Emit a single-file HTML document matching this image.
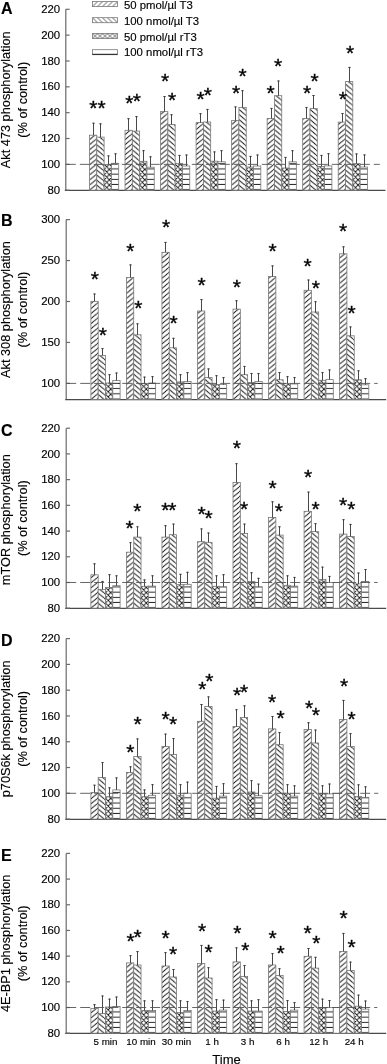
<!DOCTYPE html>
<html><head><meta charset="utf-8"><title>Figure</title>
<style>
html,body{margin:0;padding:0;background:#fff;width:387px;height:1064px;overflow:hidden;}
svg{display:block;font-family:"Liberation Sans", sans-serif;will-change:transform;}
text{stroke:#000;stroke-width:0.15px;}
</style></head><body>
<svg width="387" height="1064" viewBox="0 0 387 1064" font-family="Liberation Sans, sans-serif" fill="#000">
<defs>
<pattern id="hf" patternUnits="userSpaceOnUse" width="6.0" height="5.05" x="0" y="0"><path d="M-6.0,5.05 L0,0 M0,5.05 L6.0,0 M6.0,5.05 L12.0,0" stroke="#111" stroke-width="0.95" fill="none"/></pattern>
<pattern id="hb" patternUnits="userSpaceOnUse" width="6.0" height="5.05" x="0" y="0"><path d="M-6.0,0 L0,5.05 M0,0 L6.0,5.05 M6.0,0 L12.0,5.05" stroke="#111" stroke-width="0.95" fill="none"/></pattern>
<pattern id="hx" patternUnits="userSpaceOnUse" width="5.2" height="5.2" x="0" y="0"><path d="M-5.2,5.2 L0,0 M0,5.2 L5.2,0 M5.2,5.2 L10.4,0 M-5.2,0 L0,5.2 M0,0 L5.2,5.2 M5.2,0 L10.4,5.2" stroke="#111" stroke-width="0.9" fill="none"/></pattern>
<pattern id="hh" patternUnits="userSpaceOnUse" width="8" height="5.2" x="0" y="0"><path d="M-1,4.7 L9,4.7" stroke="#111" stroke-width="0.9" fill="none"/></pattern>
<pattern id="lf" patternUnits="userSpaceOnUse" width="5" height="5" x="0" y="0"><path d="M-5,5 L0,0 M0,5 L5,0 M5,5 L10,0" stroke="#111" stroke-width="0.7" fill="none"/></pattern>
<pattern id="lb" patternUnits="userSpaceOnUse" width="5" height="5" x="0" y="0"><path d="M-5,0 L0,5 M0,0 L5,5 M5,0 L10,5" stroke="#111" stroke-width="0.7" fill="none"/></pattern>
<pattern id="lx" patternUnits="userSpaceOnUse" width="5" height="5" x="0" y="0"><path d="M-5,5 L0,0 M0,5 L5,0 M5,5 L10,0 M-5,0 L0,5 M0,0 L5,5 M5,0 L10,5" stroke="#111" stroke-width="0.7" fill="none"/></pattern>
</defs>
<g transform="translate(92.5,6.6)"><rect x="0" y="-5" width="25" height="5" fill="#fff"/><rect x="0" y="-5" width="25" height="5" fill="url(#lf)" stroke="#777" stroke-width="0.8"/></g>
<text x="124" y="9.4" font-size="11.35">50 pmol/µl T3</text>
<g transform="translate(92.5,22.7)"><rect x="0" y="-5" width="25" height="5" fill="#fff"/><rect x="0" y="-5" width="25" height="5" fill="url(#lb)" stroke="#777" stroke-width="0.8"/></g>
<text x="124" y="25" font-size="11.35">100 nmol/µl T3</text>
<g transform="translate(92.5,38.5)"><rect x="0" y="-5" width="25" height="5" fill="#fff"/><rect x="0" y="-5" width="25" height="5" fill="url(#lx)" stroke="#777" stroke-width="0.8"/></g>
<text x="124" y="40.5" font-size="11.35">50 pmol/µl rT3</text>
<g transform="translate(92.5,54.7)"><rect x="0" y="-5" width="25" height="5" fill="#fff"/><rect x="0" y="-5" width="25" height="5" fill="#fff" stroke="#777" stroke-width="0.8"/></g>
<line x1="92.5" y1="54.3" x2="117.5" y2="54.3" stroke="#111" stroke-width="0.95"/>
<text x="124" y="56" font-size="11.35">100 nmol/µl rT3</text>
<line x1="65.8" y1="9.3" x2="65.8" y2="190.2" stroke="#6a6a6a" stroke-width="1.2"/>
<line x1="64.8" y1="190.4" x2="385.5" y2="190.4" stroke="#4a4a4a" stroke-width="1.3"/>
<line x1="65.8" y1="9.3" x2="69.6" y2="9.3" stroke="#6a6a6a" stroke-width="1.2"/>
<text x="60.2" y="12.9" font-size="11.4" text-anchor="end">220</text>
<line x1="65.8" y1="35.14" x2="69.6" y2="35.14" stroke="#6a6a6a" stroke-width="1.2"/>
<text x="60.2" y="38.74" font-size="11.4" text-anchor="end">200</text>
<line x1="65.8" y1="60.99" x2="69.6" y2="60.99" stroke="#6a6a6a" stroke-width="1.2"/>
<text x="60.2" y="64.59" font-size="11.4" text-anchor="end">180</text>
<line x1="65.8" y1="86.83" x2="69.6" y2="86.83" stroke="#6a6a6a" stroke-width="1.2"/>
<text x="60.2" y="90.43" font-size="11.4" text-anchor="end">160</text>
<line x1="65.8" y1="112.67" x2="69.6" y2="112.67" stroke="#6a6a6a" stroke-width="1.2"/>
<text x="60.2" y="116.27" font-size="11.4" text-anchor="end">140</text>
<line x1="65.8" y1="138.51" x2="69.6" y2="138.51" stroke="#6a6a6a" stroke-width="1.2"/>
<text x="60.2" y="142.11" font-size="11.4" text-anchor="end">120</text>
<line x1="65.8" y1="164.36" x2="69.6" y2="164.36" stroke="#6a6a6a" stroke-width="1.2"/>
<text x="60.2" y="167.96" font-size="11.4" text-anchor="end">100</text>
<line x1="65.8" y1="190.2" x2="69.6" y2="190.2" stroke="#6a6a6a" stroke-width="1.2"/>
<text x="60.2" y="193.8" font-size="11.4" text-anchor="end">80</text>
<text x="1" y="14.2" font-size="16" font-weight="bold">A</text>
<text transform="translate(10.3,99.75) rotate(-90)" font-size="12.75" text-anchor="middle">Akt 473 phosphorylation</text>
<text transform="translate(26.6,99.75) rotate(-90)" font-size="12.75" text-anchor="middle">(% of control)</text>
<g transform="translate(89.5,190.2)"><rect x="0" y="-55" width="7.3" height="55" fill="#fff"/><rect x="0" y="-55" width="7.3" height="55" fill="url(#hf)" stroke="#777" stroke-width="0.8"/></g>
<line x1="93.5" y1="135.2" x2="93.5" y2="122.8" stroke="#333" stroke-width="0.9"/>
<line x1="92.3" y1="123.2" x2="94.7" y2="123.2" stroke="#333" stroke-width="0.9"/>
<g transform="translate(96.8,190.2)"><rect x="0" y="-53.1" width="7.3" height="53.1" fill="#fff"/><rect x="0" y="-53.1" width="7.3" height="53.1" fill="url(#hb)" stroke="#777" stroke-width="0.8"/></g>
<line x1="100.5" y1="137.1" x2="100.5" y2="123.4" stroke="#333" stroke-width="0.9"/>
<line x1="99.3" y1="123.8" x2="101.7" y2="123.8" stroke="#333" stroke-width="0.9"/>
<g transform="translate(104.1,190.2)"><rect x="0" y="-25.8" width="7.3" height="25.8" fill="#fff"/><rect x="0" y="-25.8" width="7.3" height="25.8" fill="url(#hx)" stroke="#777" stroke-width="0.8"/></g>
<line x1="108.5" y1="164.4" x2="108.5" y2="155.5" stroke="#333" stroke-width="0.9"/>
<line x1="107.3" y1="155.9" x2="109.7" y2="155.9" stroke="#333" stroke-width="0.9"/>
<g transform="translate(111.4,190.2)"><rect x="0" y="-26.9" width="7.3" height="26.9" fill="#fff"/><rect x="0" y="-26.9" width="7.3" height="26.9" fill="url(#hh)" stroke="#777" stroke-width="0.8"/></g>
<line x1="115.5" y1="163.3" x2="115.5" y2="153.4" stroke="#333" stroke-width="0.9"/>
<line x1="114.3" y1="153.8" x2="116.7" y2="153.8" stroke="#333" stroke-width="0.9"/>
<g transform="translate(125.03,190.2)"><rect x="0" y="-59.9" width="7.3" height="59.9" fill="#fff"/><rect x="0" y="-59.9" width="7.3" height="59.9" fill="url(#hf)" stroke="#777" stroke-width="0.8"/></g>
<line x1="128.5" y1="130.3" x2="128.5" y2="118.3" stroke="#333" stroke-width="0.9"/>
<line x1="127.3" y1="118.7" x2="129.7" y2="118.7" stroke="#333" stroke-width="0.9"/>
<g transform="translate(132.33,190.2)"><rect x="0" y="-59.1" width="7.3" height="59.1" fill="#fff"/><rect x="0" y="-59.1" width="7.3" height="59.1" fill="url(#hb)" stroke="#777" stroke-width="0.8"/></g>
<line x1="136.5" y1="131.1" x2="136.5" y2="116.2" stroke="#333" stroke-width="0.9"/>
<line x1="135.3" y1="116.6" x2="137.7" y2="116.6" stroke="#333" stroke-width="0.9"/>
<g transform="translate(139.63,190.2)"><rect x="0" y="-28.9" width="7.3" height="28.9" fill="#fff"/><rect x="0" y="-28.9" width="7.3" height="28.9" fill="url(#hx)" stroke="#777" stroke-width="0.8"/></g>
<line x1="143.5" y1="161.3" x2="143.5" y2="150.3" stroke="#333" stroke-width="0.9"/>
<line x1="142.3" y1="150.7" x2="144.7" y2="150.7" stroke="#333" stroke-width="0.9"/>
<g transform="translate(146.93,190.2)"><rect x="0" y="-23" width="7.3" height="23" fill="#fff"/><rect x="0" y="-23" width="7.3" height="23" fill="url(#hh)" stroke="#777" stroke-width="0.8"/></g>
<line x1="150.5" y1="167.2" x2="150.5" y2="156.4" stroke="#333" stroke-width="0.9"/>
<line x1="149.3" y1="156.8" x2="151.7" y2="156.8" stroke="#333" stroke-width="0.9"/>
<g transform="translate(160.56,190.2)"><rect x="0" y="-78.6" width="7.3" height="78.6" fill="#fff"/><rect x="0" y="-78.6" width="7.3" height="78.6" fill="url(#hf)" stroke="#777" stroke-width="0.8"/></g>
<line x1="164.5" y1="111.6" x2="164.5" y2="96.1" stroke="#333" stroke-width="0.9"/>
<line x1="163.3" y1="96.5" x2="165.7" y2="96.5" stroke="#333" stroke-width="0.9"/>
<g transform="translate(167.86,190.2)"><rect x="0" y="-65.6" width="7.3" height="65.6" fill="#fff"/><rect x="0" y="-65.6" width="7.3" height="65.6" fill="url(#hb)" stroke="#777" stroke-width="0.8"/></g>
<line x1="171.5" y1="124.6" x2="171.5" y2="114.3" stroke="#333" stroke-width="0.9"/>
<line x1="170.3" y1="114.7" x2="172.7" y2="114.7" stroke="#333" stroke-width="0.9"/>
<g transform="translate(175.16,190.2)"><rect x="0" y="-26.9" width="7.3" height="26.9" fill="#fff"/><rect x="0" y="-26.9" width="7.3" height="26.9" fill="url(#hx)" stroke="#777" stroke-width="0.8"/></g>
<line x1="179.5" y1="163.3" x2="179.5" y2="155" stroke="#333" stroke-width="0.9"/>
<line x1="178.3" y1="155.4" x2="180.7" y2="155.4" stroke="#333" stroke-width="0.9"/>
<g transform="translate(182.46,190.2)"><rect x="0" y="-24.2" width="7.3" height="24.2" fill="#fff"/><rect x="0" y="-24.2" width="7.3" height="24.2" fill="url(#hh)" stroke="#777" stroke-width="0.8"/></g>
<line x1="186.5" y1="166" x2="186.5" y2="154.6" stroke="#333" stroke-width="0.9"/>
<line x1="185.3" y1="155" x2="187.7" y2="155" stroke="#333" stroke-width="0.9"/>
<g transform="translate(196.09,190.2)"><rect x="0" y="-67.6" width="7.3" height="67.6" fill="#fff"/><rect x="0" y="-67.6" width="7.3" height="67.6" fill="url(#hf)" stroke="#777" stroke-width="0.8"/></g>
<line x1="200.5" y1="122.6" x2="200.5" y2="113.3" stroke="#333" stroke-width="0.9"/>
<line x1="199.3" y1="113.7" x2="201.7" y2="113.7" stroke="#333" stroke-width="0.9"/>
<g transform="translate(203.39,190.2)"><rect x="0" y="-68.2" width="7.3" height="68.2" fill="#fff"/><rect x="0" y="-68.2" width="7.3" height="68.2" fill="url(#hb)" stroke="#777" stroke-width="0.8"/></g>
<line x1="207.5" y1="122" x2="207.5" y2="109" stroke="#333" stroke-width="0.9"/>
<line x1="206.3" y1="109.4" x2="208.7" y2="109.4" stroke="#333" stroke-width="0.9"/>
<g transform="translate(210.69,190.2)"><rect x="0" y="-29" width="7.3" height="29" fill="#fff"/><rect x="0" y="-29" width="7.3" height="29" fill="url(#hx)" stroke="#777" stroke-width="0.8"/></g>
<line x1="214.5" y1="161.2" x2="214.5" y2="151.5" stroke="#333" stroke-width="0.9"/>
<line x1="213.3" y1="151.9" x2="215.7" y2="151.9" stroke="#333" stroke-width="0.9"/>
<g transform="translate(217.99,190.2)"><rect x="0" y="-28.4" width="7.3" height="28.4" fill="#fff"/><rect x="0" y="-28.4" width="7.3" height="28.4" fill="url(#hh)" stroke="#777" stroke-width="0.8"/></g>
<line x1="221.5" y1="161.8" x2="221.5" y2="150.3" stroke="#333" stroke-width="0.9"/>
<line x1="220.3" y1="150.7" x2="222.7" y2="150.7" stroke="#333" stroke-width="0.9"/>
<g transform="translate(231.62,190.2)"><rect x="0" y="-69.7" width="7.3" height="69.7" fill="#fff"/><rect x="0" y="-69.7" width="7.3" height="69.7" fill="url(#hf)" stroke="#777" stroke-width="0.8"/></g>
<line x1="235.5" y1="120.5" x2="235.5" y2="106.5" stroke="#333" stroke-width="0.9"/>
<line x1="234.3" y1="106.9" x2="236.7" y2="106.9" stroke="#333" stroke-width="0.9"/>
<g transform="translate(238.92,190.2)"><rect x="0" y="-82.7" width="7.3" height="82.7" fill="#fff"/><rect x="0" y="-82.7" width="7.3" height="82.7" fill="url(#hb)" stroke="#777" stroke-width="0.8"/></g>
<line x1="242.5" y1="107.5" x2="242.5" y2="90.3" stroke="#333" stroke-width="0.9"/>
<line x1="241.3" y1="90.7" x2="243.7" y2="90.7" stroke="#333" stroke-width="0.9"/>
<g transform="translate(246.22,190.2)"><rect x="0" y="-23.2" width="7.3" height="23.2" fill="#fff"/><rect x="0" y="-23.2" width="7.3" height="23.2" fill="url(#hx)" stroke="#777" stroke-width="0.8"/></g>
<line x1="250.5" y1="167" x2="250.5" y2="156" stroke="#333" stroke-width="0.9"/>
<line x1="249.3" y1="156.4" x2="251.7" y2="156.4" stroke="#333" stroke-width="0.9"/>
<g transform="translate(253.52,190.2)"><rect x="0" y="-24.2" width="7.3" height="24.2" fill="#fff"/><rect x="0" y="-24.2" width="7.3" height="24.2" fill="url(#hh)" stroke="#777" stroke-width="0.8"/></g>
<line x1="257.5" y1="166" x2="257.5" y2="154.6" stroke="#333" stroke-width="0.9"/>
<line x1="256.3" y1="155" x2="258.7" y2="155" stroke="#333" stroke-width="0.9"/>
<g transform="translate(267.15,190.2)"><rect x="0" y="-71.7" width="7.3" height="71.7" fill="#fff"/><rect x="0" y="-71.7" width="7.3" height="71.7" fill="url(#hf)" stroke="#777" stroke-width="0.8"/></g>
<line x1="271.5" y1="118.5" x2="271.5" y2="108" stroke="#333" stroke-width="0.9"/>
<line x1="270.3" y1="108.4" x2="272.7" y2="108.4" stroke="#333" stroke-width="0.9"/>
<g transform="translate(274.45,190.2)"><rect x="0" y="-94.5" width="7.3" height="94.5" fill="#fff"/><rect x="0" y="-94.5" width="7.3" height="94.5" fill="url(#hb)" stroke="#777" stroke-width="0.8"/></g>
<line x1="278.5" y1="95.7" x2="278.5" y2="80.6" stroke="#333" stroke-width="0.9"/>
<line x1="277.3" y1="81" x2="279.7" y2="81" stroke="#333" stroke-width="0.9"/>
<g transform="translate(281.75,190.2)"><rect x="0" y="-22.2" width="7.3" height="22.2" fill="#fff"/><rect x="0" y="-22.2" width="7.3" height="22.2" fill="url(#hx)" stroke="#777" stroke-width="0.8"/></g>
<line x1="285.5" y1="168" x2="285.5" y2="157" stroke="#333" stroke-width="0.9"/>
<line x1="284.3" y1="157.4" x2="286.7" y2="157.4" stroke="#333" stroke-width="0.9"/>
<g transform="translate(289.05,190.2)"><rect x="0" y="-28.4" width="7.3" height="28.4" fill="#fff"/><rect x="0" y="-28.4" width="7.3" height="28.4" fill="url(#hh)" stroke="#777" stroke-width="0.8"/></g>
<line x1="292.5" y1="161.8" x2="292.5" y2="150.3" stroke="#333" stroke-width="0.9"/>
<line x1="291.3" y1="150.7" x2="293.7" y2="150.7" stroke="#333" stroke-width="0.9"/>
<g transform="translate(302.68,190.2)"><rect x="0" y="-71.7" width="7.3" height="71.7" fill="#fff"/><rect x="0" y="-71.7" width="7.3" height="71.7" fill="url(#hf)" stroke="#777" stroke-width="0.8"/></g>
<line x1="306.5" y1="118.5" x2="306.5" y2="107.2" stroke="#333" stroke-width="0.9"/>
<line x1="305.3" y1="107.6" x2="307.7" y2="107.6" stroke="#333" stroke-width="0.9"/>
<g transform="translate(309.98,190.2)"><rect x="0" y="-81.6" width="7.3" height="81.6" fill="#fff"/><rect x="0" y="-81.6" width="7.3" height="81.6" fill="url(#hb)" stroke="#777" stroke-width="0.8"/></g>
<line x1="313.5" y1="108.6" x2="313.5" y2="95.1" stroke="#333" stroke-width="0.9"/>
<line x1="312.3" y1="95.5" x2="314.7" y2="95.5" stroke="#333" stroke-width="0.9"/>
<g transform="translate(317.28,190.2)"><rect x="0" y="-23.8" width="7.3" height="23.8" fill="#fff"/><rect x="0" y="-23.8" width="7.3" height="23.8" fill="url(#hx)" stroke="#777" stroke-width="0.8"/></g>
<line x1="321.5" y1="166.4" x2="321.5" y2="155" stroke="#333" stroke-width="0.9"/>
<line x1="320.3" y1="155.4" x2="322.7" y2="155.4" stroke="#333" stroke-width="0.9"/>
<g transform="translate(324.58,190.2)"><rect x="0" y="-24.3" width="7.3" height="24.3" fill="#fff"/><rect x="0" y="-24.3" width="7.3" height="24.3" fill="url(#hh)" stroke="#777" stroke-width="0.8"/></g>
<line x1="328.5" y1="165.9" x2="328.5" y2="153.3" stroke="#333" stroke-width="0.9"/>
<line x1="327.3" y1="153.7" x2="329.7" y2="153.7" stroke="#333" stroke-width="0.9"/>
<g transform="translate(338.21,190.2)"><rect x="0" y="-68.1" width="7.3" height="68.1" fill="#fff"/><rect x="0" y="-68.1" width="7.3" height="68.1" fill="url(#hf)" stroke="#777" stroke-width="0.8"/></g>
<line x1="342.5" y1="122.1" x2="342.5" y2="113.1" stroke="#333" stroke-width="0.9"/>
<line x1="341.3" y1="113.5" x2="343.7" y2="113.5" stroke="#333" stroke-width="0.9"/>
<g transform="translate(345.51,190.2)"><rect x="0" y="-108.6" width="7.3" height="108.6" fill="#fff"/><rect x="0" y="-108.6" width="7.3" height="108.6" fill="url(#hb)" stroke="#777" stroke-width="0.8"/></g>
<line x1="349.5" y1="81.6" x2="349.5" y2="67" stroke="#333" stroke-width="0.9"/>
<line x1="348.3" y1="67.4" x2="350.7" y2="67.4" stroke="#333" stroke-width="0.9"/>
<g transform="translate(352.81,190.2)"><rect x="0" y="-26.5" width="7.3" height="26.5" fill="#fff"/><rect x="0" y="-26.5" width="7.3" height="26.5" fill="url(#hx)" stroke="#777" stroke-width="0.8"/></g>
<line x1="356.5" y1="163.7" x2="356.5" y2="153.5" stroke="#333" stroke-width="0.9"/>
<line x1="355.3" y1="153.9" x2="357.7" y2="153.9" stroke="#333" stroke-width="0.9"/>
<g transform="translate(360.11,190.2)"><rect x="0" y="-23.2" width="7.3" height="23.2" fill="#fff"/><rect x="0" y="-23.2" width="7.3" height="23.2" fill="url(#hh)" stroke="#777" stroke-width="0.8"/></g>
<line x1="364.5" y1="167" x2="364.5" y2="154.5" stroke="#333" stroke-width="0.9"/>
<line x1="363.3" y1="154.9" x2="365.7" y2="154.9" stroke="#333" stroke-width="0.9"/>
<line x1="65.8" y1="164.36" x2="379.8" y2="164.36" stroke="#555" stroke-width="0.9" stroke-dasharray="10 4"/>
<text x="93.4" y="114.87" font-size="21" font-weight="normal" style="stroke-width:0.35px" text-anchor="middle">*</text>
<text x="101.5" y="114.87" font-size="21" font-weight="normal" style="stroke-width:0.35px" text-anchor="middle">*</text>
<text x="129.3" y="109.97" font-size="21" font-weight="normal" style="stroke-width:0.35px" text-anchor="middle">*</text>
<text x="136.8" y="108.07" font-size="21" font-weight="normal" style="stroke-width:0.35px" text-anchor="middle">*</text>
<text x="165" y="88.47" font-size="21" font-weight="normal" style="stroke-width:0.35px" text-anchor="middle">*</text>
<text x="172" y="106.87" font-size="21" font-weight="normal" style="stroke-width:0.35px" text-anchor="middle">*</text>
<text x="200.6" y="106.17" font-size="21" font-weight="normal" style="stroke-width:0.35px" text-anchor="middle">*</text>
<text x="207.9" y="102.07" font-size="21" font-weight="normal" style="stroke-width:0.35px" text-anchor="middle">*</text>
<text x="236.2" y="99.97" font-size="21" font-weight="normal" style="stroke-width:0.35px" text-anchor="middle">*</text>
<text x="242.7" y="83.47" font-size="21" font-weight="normal" style="stroke-width:0.35px" text-anchor="middle">*</text>
<text x="270.6" y="99.97" font-size="21" font-weight="normal" style="stroke-width:0.35px" text-anchor="middle">*</text>
<text x="278.2" y="73.47" font-size="21" font-weight="normal" style="stroke-width:0.35px" text-anchor="middle">*</text>
<text x="307" y="100.37" font-size="21" font-weight="normal" style="stroke-width:0.35px" text-anchor="middle">*</text>
<text x="314.6" y="88.27" font-size="21" font-weight="normal" style="stroke-width:0.35px" text-anchor="middle">*</text>
<text x="342.9" y="105.97" font-size="21" font-weight="normal" style="stroke-width:0.35px" text-anchor="middle">*</text>
<text x="350.2" y="59.87" font-size="21" font-weight="normal" style="stroke-width:0.35px" text-anchor="middle">*</text>
<line x1="66.2" y1="219.6" x2="66.2" y2="399.5" stroke="#6a6a6a" stroke-width="1.2"/>
<line x1="65.2" y1="399.7" x2="386.2" y2="399.7" stroke="#4a4a4a" stroke-width="1.3"/>
<line x1="66.2" y1="219.6" x2="70" y2="219.6" stroke="#6a6a6a" stroke-width="1.2"/>
<text x="60.2" y="223.2" font-size="11.4" text-anchor="end">300</text>
<line x1="66.2" y1="260.55" x2="70" y2="260.55" stroke="#6a6a6a" stroke-width="1.2"/>
<text x="60.2" y="264.15" font-size="11.4" text-anchor="end">250</text>
<line x1="66.2" y1="301.5" x2="70" y2="301.5" stroke="#6a6a6a" stroke-width="1.2"/>
<text x="60.2" y="305.1" font-size="11.4" text-anchor="end">200</text>
<line x1="66.2" y1="342.45" x2="70" y2="342.45" stroke="#6a6a6a" stroke-width="1.2"/>
<text x="60.2" y="346.05" font-size="11.4" text-anchor="end">150</text>
<line x1="66.2" y1="383.4" x2="70" y2="383.4" stroke="#6a6a6a" stroke-width="1.2"/>
<text x="60.2" y="387" font-size="11.4" text-anchor="end">100</text>
<text x="1" y="225.6" font-size="16" font-weight="bold">B</text>
<text transform="translate(10.3,309.55) rotate(-90)" font-size="12.75" text-anchor="middle">Akt 308 phosphorylation</text>
<text transform="translate(26.6,309.55) rotate(-90)" font-size="12.75" text-anchor="middle">(% of control)</text>
<g transform="translate(90.9,399.5)"><rect x="0" y="-98.2" width="7.3" height="98.2" fill="#fff"/><rect x="0" y="-98.2" width="7.3" height="98.2" fill="url(#hf)" stroke="#777" stroke-width="0.8"/></g>
<line x1="94.5" y1="301.3" x2="94.5" y2="293.6" stroke="#333" stroke-width="0.9"/>
<line x1="93.3" y1="294" x2="95.7" y2="294" stroke="#333" stroke-width="0.9"/>
<g transform="translate(98.2,399.5)"><rect x="0" y="-44.1" width="7.3" height="44.1" fill="#fff"/><rect x="0" y="-44.1" width="7.3" height="44.1" fill="url(#hb)" stroke="#777" stroke-width="0.8"/></g>
<line x1="102.5" y1="355.4" x2="102.5" y2="348.2" stroke="#333" stroke-width="0.9"/>
<line x1="101.3" y1="348.6" x2="103.7" y2="348.6" stroke="#333" stroke-width="0.9"/>
<g transform="translate(105.5,399.5)"><rect x="0" y="-16.5" width="7.3" height="16.5" fill="#fff"/><rect x="0" y="-16.5" width="7.3" height="16.5" fill="url(#hx)" stroke="#777" stroke-width="0.8"/></g>
<line x1="109.5" y1="383" x2="109.5" y2="374.3" stroke="#333" stroke-width="0.9"/>
<line x1="108.3" y1="374.7" x2="110.7" y2="374.7" stroke="#333" stroke-width="0.9"/>
<g transform="translate(112.8,399.5)"><rect x="0" y="-19" width="7.3" height="19" fill="#fff"/><rect x="0" y="-19" width="7.3" height="19" fill="url(#hh)" stroke="#777" stroke-width="0.8"/></g>
<line x1="116.5" y1="380.5" x2="116.5" y2="372.6" stroke="#333" stroke-width="0.9"/>
<line x1="115.3" y1="373" x2="117.7" y2="373" stroke="#333" stroke-width="0.9"/>
<g transform="translate(126.43,399.5)"><rect x="0" y="-122" width="7.3" height="122" fill="#fff"/><rect x="0" y="-122" width="7.3" height="122" fill="url(#hf)" stroke="#777" stroke-width="0.8"/></g>
<line x1="130.5" y1="277.5" x2="130.5" y2="264.5" stroke="#333" stroke-width="0.9"/>
<line x1="129.3" y1="264.9" x2="131.7" y2="264.9" stroke="#333" stroke-width="0.9"/>
<g transform="translate(133.73,399.5)"><rect x="0" y="-64.7" width="7.3" height="64.7" fill="#fff"/><rect x="0" y="-64.7" width="7.3" height="64.7" fill="url(#hb)" stroke="#777" stroke-width="0.8"/></g>
<line x1="137.5" y1="334.8" x2="137.5" y2="323.4" stroke="#333" stroke-width="0.9"/>
<line x1="136.3" y1="323.8" x2="138.7" y2="323.8" stroke="#333" stroke-width="0.9"/>
<g transform="translate(141.03,399.5)"><rect x="0" y="-16.1" width="7.3" height="16.1" fill="#fff"/><rect x="0" y="-16.1" width="7.3" height="16.1" fill="url(#hx)" stroke="#777" stroke-width="0.8"/></g>
<line x1="144.5" y1="383.4" x2="144.5" y2="376.7" stroke="#333" stroke-width="0.9"/>
<line x1="143.3" y1="377.1" x2="145.7" y2="377.1" stroke="#333" stroke-width="0.9"/>
<g transform="translate(148.33,399.5)"><rect x="0" y="-16.5" width="7.3" height="16.5" fill="#fff"/><rect x="0" y="-16.5" width="7.3" height="16.5" fill="url(#hh)" stroke="#777" stroke-width="0.8"/></g>
<line x1="152.5" y1="383" x2="152.5" y2="376.3" stroke="#333" stroke-width="0.9"/>
<line x1="151.3" y1="376.7" x2="153.7" y2="376.7" stroke="#333" stroke-width="0.9"/>
<g transform="translate(161.96,399.5)"><rect x="0" y="-147.2" width="7.3" height="147.2" fill="#fff"/><rect x="0" y="-147.2" width="7.3" height="147.2" fill="url(#hf)" stroke="#777" stroke-width="0.8"/></g>
<line x1="165.5" y1="252.3" x2="165.5" y2="242" stroke="#333" stroke-width="0.9"/>
<line x1="164.3" y1="242.4" x2="166.7" y2="242.4" stroke="#333" stroke-width="0.9"/>
<g transform="translate(169.26,399.5)"><rect x="0" y="-51.7" width="7.3" height="51.7" fill="#fff"/><rect x="0" y="-51.7" width="7.3" height="51.7" fill="url(#hb)" stroke="#777" stroke-width="0.8"/></g>
<line x1="173.5" y1="347.8" x2="173.5" y2="337.9" stroke="#333" stroke-width="0.9"/>
<line x1="172.3" y1="338.3" x2="174.7" y2="338.3" stroke="#333" stroke-width="0.9"/>
<g transform="translate(176.56,399.5)"><rect x="0" y="-17.6" width="7.3" height="17.6" fill="#fff"/><rect x="0" y="-17.6" width="7.3" height="17.6" fill="url(#hx)" stroke="#777" stroke-width="0.8"/></g>
<line x1="180.5" y1="381.9" x2="180.5" y2="374.3" stroke="#333" stroke-width="0.9"/>
<line x1="179.3" y1="374.7" x2="181.7" y2="374.7" stroke="#333" stroke-width="0.9"/>
<g transform="translate(183.86,399.5)"><rect x="0" y="-18" width="7.3" height="18" fill="#fff"/><rect x="0" y="-18" width="7.3" height="18" fill="url(#hh)" stroke="#777" stroke-width="0.8"/></g>
<line x1="187.5" y1="381.5" x2="187.5" y2="372.2" stroke="#333" stroke-width="0.9"/>
<line x1="186.3" y1="372.6" x2="188.7" y2="372.6" stroke="#333" stroke-width="0.9"/>
<g transform="translate(197.49,399.5)"><rect x="0" y="-88.5" width="7.3" height="88.5" fill="#fff"/><rect x="0" y="-88.5" width="7.3" height="88.5" fill="url(#hf)" stroke="#777" stroke-width="0.8"/></g>
<line x1="201.5" y1="311" x2="201.5" y2="299.2" stroke="#333" stroke-width="0.9"/>
<line x1="200.3" y1="299.6" x2="202.7" y2="299.6" stroke="#333" stroke-width="0.9"/>
<g transform="translate(204.79,399.5)"><rect x="0" y="-22.1" width="7.3" height="22.1" fill="#fff"/><rect x="0" y="-22.1" width="7.3" height="22.1" fill="url(#hb)" stroke="#777" stroke-width="0.8"/></g>
<line x1="208.5" y1="377.4" x2="208.5" y2="368.5" stroke="#333" stroke-width="0.9"/>
<line x1="207.3" y1="368.9" x2="209.7" y2="368.9" stroke="#333" stroke-width="0.9"/>
<g transform="translate(212.09,399.5)"><rect x="0" y="-14.9" width="7.3" height="14.9" fill="#fff"/><rect x="0" y="-14.9" width="7.3" height="14.9" fill="url(#hx)" stroke="#777" stroke-width="0.8"/></g>
<line x1="216.5" y1="384.6" x2="216.5" y2="375.3" stroke="#333" stroke-width="0.9"/>
<line x1="215.3" y1="375.7" x2="217.7" y2="375.7" stroke="#333" stroke-width="0.9"/>
<g transform="translate(219.39,399.5)"><rect x="0" y="-14.9" width="7.3" height="14.9" fill="#fff"/><rect x="0" y="-14.9" width="7.3" height="14.9" fill="url(#hh)" stroke="#777" stroke-width="0.8"/></g>
<line x1="223.5" y1="384.6" x2="223.5" y2="377.2" stroke="#333" stroke-width="0.9"/>
<line x1="222.3" y1="377.6" x2="224.7" y2="377.6" stroke="#333" stroke-width="0.9"/>
<g transform="translate(233.02,399.5)"><rect x="0" y="-90.4" width="7.3" height="90.4" fill="#fff"/><rect x="0" y="-90.4" width="7.3" height="90.4" fill="url(#hf)" stroke="#777" stroke-width="0.8"/></g>
<line x1="236.5" y1="309.1" x2="236.5" y2="300.3" stroke="#333" stroke-width="0.9"/>
<line x1="235.3" y1="300.7" x2="237.7" y2="300.7" stroke="#333" stroke-width="0.9"/>
<g transform="translate(240.32,399.5)"><rect x="0" y="-24.8" width="7.3" height="24.8" fill="#fff"/><rect x="0" y="-24.8" width="7.3" height="24.8" fill="url(#hb)" stroke="#777" stroke-width="0.8"/></g>
<line x1="244.5" y1="374.7" x2="244.5" y2="366" stroke="#333" stroke-width="0.9"/>
<line x1="243.3" y1="366.4" x2="245.7" y2="366.4" stroke="#333" stroke-width="0.9"/>
<g transform="translate(247.62,399.5)"><rect x="0" y="-17" width="7.3" height="17" fill="#fff"/><rect x="0" y="-17" width="7.3" height="17" fill="url(#hx)" stroke="#777" stroke-width="0.8"/></g>
<line x1="251.5" y1="382.5" x2="251.5" y2="373.2" stroke="#333" stroke-width="0.9"/>
<line x1="250.3" y1="373.6" x2="252.7" y2="373.6" stroke="#333" stroke-width="0.9"/>
<g transform="translate(254.92,399.5)"><rect x="0" y="-18" width="7.3" height="18" fill="#fff"/><rect x="0" y="-18" width="7.3" height="18" fill="url(#hh)" stroke="#777" stroke-width="0.8"/></g>
<line x1="258.5" y1="381.5" x2="258.5" y2="373.2" stroke="#333" stroke-width="0.9"/>
<line x1="257.3" y1="373.6" x2="259.7" y2="373.6" stroke="#333" stroke-width="0.9"/>
<g transform="translate(268.55,399.5)"><rect x="0" y="-123" width="7.3" height="123" fill="#fff"/><rect x="0" y="-123" width="7.3" height="123" fill="url(#hf)" stroke="#777" stroke-width="0.8"/></g>
<line x1="272.5" y1="276.5" x2="272.5" y2="265.5" stroke="#333" stroke-width="0.9"/>
<line x1="271.3" y1="265.9" x2="273.7" y2="265.9" stroke="#333" stroke-width="0.9"/>
<g transform="translate(275.85,399.5)"><rect x="0" y="-19.7" width="7.3" height="19.7" fill="#fff"/><rect x="0" y="-19.7" width="7.3" height="19.7" fill="url(#hb)" stroke="#777" stroke-width="0.8"/></g>
<line x1="279.5" y1="379.8" x2="279.5" y2="372.2" stroke="#333" stroke-width="0.9"/>
<line x1="278.3" y1="372.6" x2="280.7" y2="372.6" stroke="#333" stroke-width="0.9"/>
<g transform="translate(283.15,399.5)"><rect x="0" y="-16.1" width="7.3" height="16.1" fill="#fff"/><rect x="0" y="-16.1" width="7.3" height="16.1" fill="url(#hx)" stroke="#777" stroke-width="0.8"/></g>
<line x1="287.5" y1="383.4" x2="287.5" y2="376.3" stroke="#333" stroke-width="0.9"/>
<line x1="286.3" y1="376.7" x2="288.7" y2="376.7" stroke="#333" stroke-width="0.9"/>
<g transform="translate(290.45,399.5)"><rect x="0" y="-15.5" width="7.3" height="15.5" fill="#fff"/><rect x="0" y="-15.5" width="7.3" height="15.5" fill="url(#hh)" stroke="#777" stroke-width="0.8"/></g>
<line x1="294.5" y1="384" x2="294.5" y2="377.2" stroke="#333" stroke-width="0.9"/>
<line x1="293.3" y1="377.6" x2="295.7" y2="377.6" stroke="#333" stroke-width="0.9"/>
<g transform="translate(304.08,399.5)"><rect x="0" y="-109.2" width="7.3" height="109.2" fill="#fff"/><rect x="0" y="-109.2" width="7.3" height="109.2" fill="url(#hf)" stroke="#777" stroke-width="0.8"/></g>
<line x1="308.5" y1="290.3" x2="308.5" y2="279.6" stroke="#333" stroke-width="0.9"/>
<line x1="307.3" y1="280" x2="309.7" y2="280" stroke="#333" stroke-width="0.9"/>
<g transform="translate(311.38,399.5)"><rect x="0" y="-87.5" width="7.3" height="87.5" fill="#fff"/><rect x="0" y="-87.5" width="7.3" height="87.5" fill="url(#hb)" stroke="#777" stroke-width="0.8"/></g>
<line x1="315.5" y1="312" x2="315.5" y2="301.3" stroke="#333" stroke-width="0.9"/>
<line x1="314.3" y1="301.7" x2="316.7" y2="301.7" stroke="#333" stroke-width="0.9"/>
<g transform="translate(318.68,399.5)"><rect x="0" y="-19.2" width="7.3" height="19.2" fill="#fff"/><rect x="0" y="-19.2" width="7.3" height="19.2" fill="url(#hx)" stroke="#777" stroke-width="0.8"/></g>
<line x1="322.5" y1="380.3" x2="322.5" y2="372.2" stroke="#333" stroke-width="0.9"/>
<line x1="321.3" y1="372.6" x2="323.7" y2="372.6" stroke="#333" stroke-width="0.9"/>
<g transform="translate(325.98,399.5)"><rect x="0" y="-19.9" width="7.3" height="19.9" fill="#fff"/><rect x="0" y="-19.9" width="7.3" height="19.9" fill="url(#hh)" stroke="#777" stroke-width="0.8"/></g>
<line x1="329.5" y1="379.6" x2="329.5" y2="369.5" stroke="#333" stroke-width="0.9"/>
<line x1="328.3" y1="369.9" x2="330.7" y2="369.9" stroke="#333" stroke-width="0.9"/>
<g transform="translate(339.61,399.5)"><rect x="0" y="-145.7" width="7.3" height="145.7" fill="#fff"/><rect x="0" y="-145.7" width="7.3" height="145.7" fill="url(#hf)" stroke="#777" stroke-width="0.8"/></g>
<line x1="343.5" y1="253.8" x2="343.5" y2="246.4" stroke="#333" stroke-width="0.9"/>
<line x1="342.3" y1="246.8" x2="344.7" y2="246.8" stroke="#333" stroke-width="0.9"/>
<g transform="translate(346.91,399.5)"><rect x="0" y="-63.7" width="7.3" height="63.7" fill="#fff"/><rect x="0" y="-63.7" width="7.3" height="63.7" fill="url(#hb)" stroke="#777" stroke-width="0.8"/></g>
<line x1="350.5" y1="335.8" x2="350.5" y2="326.5" stroke="#333" stroke-width="0.9"/>
<line x1="349.3" y1="326.9" x2="351.7" y2="326.9" stroke="#333" stroke-width="0.9"/>
<g transform="translate(354.21,399.5)"><rect x="0" y="-19.7" width="7.3" height="19.7" fill="#fff"/><rect x="0" y="-19.7" width="7.3" height="19.7" fill="url(#hx)" stroke="#777" stroke-width="0.8"/></g>
<line x1="358.5" y1="379.8" x2="358.5" y2="370.4" stroke="#333" stroke-width="0.9"/>
<line x1="357.3" y1="370.8" x2="359.7" y2="370.8" stroke="#333" stroke-width="0.9"/>
<g transform="translate(361.51,399.5)"><rect x="0" y="-14.7" width="7.3" height="14.7" fill="#fff"/><rect x="0" y="-14.7" width="7.3" height="14.7" fill="url(#hh)" stroke="#777" stroke-width="0.8"/></g>
<line x1="365.5" y1="384.8" x2="365.5" y2="378.3" stroke="#333" stroke-width="0.9"/>
<line x1="364.3" y1="378.7" x2="366.7" y2="378.7" stroke="#333" stroke-width="0.9"/>
<line x1="66.2" y1="383.4" x2="377.7" y2="383.4" stroke="#555" stroke-width="0.9" stroke-dasharray="10 4"/>
<text x="94.8" y="286.07" font-size="21" font-weight="normal" style="stroke-width:0.35px" text-anchor="middle">*</text>
<text x="102.9" y="341.67" font-size="21" font-weight="normal" style="stroke-width:0.35px" text-anchor="middle">*</text>
<text x="130.3" y="257.67" font-size="21" font-weight="normal" style="stroke-width:0.35px" text-anchor="middle">*</text>
<text x="138.4" y="315.47" font-size="21" font-weight="normal" style="stroke-width:0.35px" text-anchor="middle">*</text>
<text x="166" y="234.17" font-size="21" font-weight="normal" style="stroke-width:0.35px" text-anchor="middle">*</text>
<text x="173.7" y="329.77" font-size="21" font-weight="normal" style="stroke-width:0.35px" text-anchor="middle">*</text>
<text x="201.7" y="292.37" font-size="21" font-weight="normal" style="stroke-width:0.35px" text-anchor="middle">*</text>
<text x="236.8" y="293.77" font-size="21" font-weight="normal" style="stroke-width:0.35px" text-anchor="middle">*</text>
<text x="272.6" y="258.17" font-size="21" font-weight="normal" style="stroke-width:0.35px" text-anchor="middle">*</text>
<text x="307.5" y="272.67" font-size="21" font-weight="normal" style="stroke-width:0.35px" text-anchor="middle">*</text>
<text x="315.9" y="294.87" font-size="21" font-weight="normal" style="stroke-width:0.35px" text-anchor="middle">*</text>
<text x="343" y="237.97" font-size="21" font-weight="normal" style="stroke-width:0.35px" text-anchor="middle">*</text>
<text x="351.6" y="319.97" font-size="21" font-weight="normal" style="stroke-width:0.35px" text-anchor="middle">*</text>
<line x1="66.2" y1="428.2" x2="66.2" y2="608.2" stroke="#6a6a6a" stroke-width="1.2"/>
<line x1="65.2" y1="608.4" x2="386.2" y2="608.4" stroke="#4a4a4a" stroke-width="1.3"/>
<line x1="66.2" y1="428.2" x2="70" y2="428.2" stroke="#6a6a6a" stroke-width="1.2"/>
<text x="60.2" y="431.8" font-size="11.4" text-anchor="end">220</text>
<line x1="66.2" y1="453.91" x2="70" y2="453.91" stroke="#6a6a6a" stroke-width="1.2"/>
<text x="60.2" y="457.51" font-size="11.4" text-anchor="end">200</text>
<line x1="66.2" y1="479.63" x2="70" y2="479.63" stroke="#6a6a6a" stroke-width="1.2"/>
<text x="60.2" y="483.23" font-size="11.4" text-anchor="end">180</text>
<line x1="66.2" y1="505.34" x2="70" y2="505.34" stroke="#6a6a6a" stroke-width="1.2"/>
<text x="60.2" y="508.94" font-size="11.4" text-anchor="end">160</text>
<line x1="66.2" y1="531.06" x2="70" y2="531.06" stroke="#6a6a6a" stroke-width="1.2"/>
<text x="60.2" y="534.66" font-size="11.4" text-anchor="end">140</text>
<line x1="66.2" y1="556.77" x2="70" y2="556.77" stroke="#6a6a6a" stroke-width="1.2"/>
<text x="60.2" y="560.37" font-size="11.4" text-anchor="end">120</text>
<line x1="66.2" y1="582.49" x2="70" y2="582.49" stroke="#6a6a6a" stroke-width="1.2"/>
<text x="60.2" y="586.09" font-size="11.4" text-anchor="end">100</text>
<line x1="66.2" y1="608.2" x2="70" y2="608.2" stroke="#6a6a6a" stroke-width="1.2"/>
<text x="60.2" y="611.8" font-size="11.4" text-anchor="end">80</text>
<text x="1" y="435.6" font-size="16" font-weight="bold">C</text>
<text transform="translate(10.3,519.7) rotate(-90)" font-size="12.75" text-anchor="middle">mTOR phosphorylation</text>
<text transform="translate(26.6,518.2) rotate(-90)" font-size="12.75" text-anchor="middle">(% of control)</text>
<g transform="translate(90.9,608.2)"><rect x="0" y="-33.4" width="7.3" height="33.4" fill="#fff"/><rect x="0" y="-33.4" width="7.3" height="33.4" fill="url(#hf)" stroke="#777" stroke-width="0.8"/></g>
<line x1="94.5" y1="574.8" x2="94.5" y2="563.4" stroke="#333" stroke-width="0.9"/>
<line x1="93.3" y1="563.8" x2="95.7" y2="563.8" stroke="#333" stroke-width="0.9"/>
<g transform="translate(98.2,608.2)"><rect x="0" y="-18.8" width="7.3" height="18.8" fill="#fff"/><rect x="0" y="-18.8" width="7.3" height="18.8" fill="url(#hb)" stroke="#777" stroke-width="0.8"/></g>
<line x1="102.5" y1="589.4" x2="102.5" y2="581" stroke="#333" stroke-width="0.9"/>
<line x1="101.3" y1="581.4" x2="103.7" y2="581.4" stroke="#333" stroke-width="0.9"/>
<g transform="translate(105.5,608.2)"><rect x="0" y="-20.8" width="7.3" height="20.8" fill="#fff"/><rect x="0" y="-20.8" width="7.3" height="20.8" fill="url(#hx)" stroke="#777" stroke-width="0.8"/></g>
<line x1="109.5" y1="587.4" x2="109.5" y2="574.3" stroke="#333" stroke-width="0.9"/>
<line x1="108.3" y1="574.7" x2="110.7" y2="574.7" stroke="#333" stroke-width="0.9"/>
<g transform="translate(112.8,608.2)"><rect x="0" y="-22.5" width="7.3" height="22.5" fill="#fff"/><rect x="0" y="-22.5" width="7.3" height="22.5" fill="url(#hh)" stroke="#777" stroke-width="0.8"/></g>
<line x1="116.5" y1="585.7" x2="116.5" y2="575.4" stroke="#333" stroke-width="0.9"/>
<line x1="115.3" y1="575.8" x2="117.7" y2="575.8" stroke="#333" stroke-width="0.9"/>
<g transform="translate(126.43,608.2)"><rect x="0" y="-56" width="7.3" height="56" fill="#fff"/><rect x="0" y="-56" width="7.3" height="56" fill="url(#hf)" stroke="#777" stroke-width="0.8"/></g>
<line x1="130.5" y1="552.2" x2="130.5" y2="542.3" stroke="#333" stroke-width="0.9"/>
<line x1="129.3" y1="542.7" x2="131.7" y2="542.7" stroke="#333" stroke-width="0.9"/>
<g transform="translate(133.73,608.2)"><rect x="0" y="-71.1" width="7.3" height="71.1" fill="#fff"/><rect x="0" y="-71.1" width="7.3" height="71.1" fill="url(#hb)" stroke="#777" stroke-width="0.8"/></g>
<line x1="137.5" y1="537.1" x2="137.5" y2="526.4" stroke="#333" stroke-width="0.9"/>
<line x1="136.3" y1="526.8" x2="138.7" y2="526.8" stroke="#333" stroke-width="0.9"/>
<g transform="translate(141.03,608.2)"><rect x="0" y="-21.9" width="7.3" height="21.9" fill="#fff"/><rect x="0" y="-21.9" width="7.3" height="21.9" fill="url(#hx)" stroke="#777" stroke-width="0.8"/></g>
<line x1="144.5" y1="586.3" x2="144.5" y2="579.5" stroke="#333" stroke-width="0.9"/>
<line x1="143.3" y1="579.9" x2="145.7" y2="579.9" stroke="#333" stroke-width="0.9"/>
<g transform="translate(148.33,608.2)"><rect x="0" y="-22.1" width="7.3" height="22.1" fill="#fff"/><rect x="0" y="-22.1" width="7.3" height="22.1" fill="url(#hh)" stroke="#777" stroke-width="0.8"/></g>
<line x1="152.5" y1="586.1" x2="152.5" y2="575.4" stroke="#333" stroke-width="0.9"/>
<line x1="151.3" y1="575.8" x2="153.7" y2="575.8" stroke="#333" stroke-width="0.9"/>
<g transform="translate(161.96,608.2)"><rect x="0" y="-71.1" width="7.3" height="71.1" fill="#fff"/><rect x="0" y="-71.1" width="7.3" height="71.1" fill="url(#hf)" stroke="#777" stroke-width="0.8"/></g>
<line x1="165.5" y1="537.1" x2="165.5" y2="525.3" stroke="#333" stroke-width="0.9"/>
<line x1="164.3" y1="525.7" x2="166.7" y2="525.7" stroke="#333" stroke-width="0.9"/>
<g transform="translate(169.26,608.2)"><rect x="0" y="-73.5" width="7.3" height="73.5" fill="#fff"/><rect x="0" y="-73.5" width="7.3" height="73.5" fill="url(#hb)" stroke="#777" stroke-width="0.8"/></g>
<line x1="173.5" y1="534.7" x2="173.5" y2="523.7" stroke="#333" stroke-width="0.9"/>
<line x1="172.3" y1="524.1" x2="174.7" y2="524.1" stroke="#333" stroke-width="0.9"/>
<g transform="translate(176.56,608.2)"><rect x="0" y="-23.5" width="7.3" height="23.5" fill="#fff"/><rect x="0" y="-23.5" width="7.3" height="23.5" fill="url(#hx)" stroke="#777" stroke-width="0.8"/></g>
<line x1="180.5" y1="584.7" x2="180.5" y2="573.9" stroke="#333" stroke-width="0.9"/>
<line x1="179.3" y1="574.3" x2="181.7" y2="574.3" stroke="#333" stroke-width="0.9"/>
<g transform="translate(183.86,608.2)"><rect x="0" y="-23.9" width="7.3" height="23.9" fill="#fff"/><rect x="0" y="-23.9" width="7.3" height="23.9" fill="url(#hh)" stroke="#777" stroke-width="0.8"/></g>
<line x1="187.5" y1="584.3" x2="187.5" y2="571.9" stroke="#333" stroke-width="0.9"/>
<line x1="186.3" y1="572.3" x2="188.7" y2="572.3" stroke="#333" stroke-width="0.9"/>
<g transform="translate(197.49,608.2)"><rect x="0" y="-66.5" width="7.3" height="66.5" fill="#fff"/><rect x="0" y="-66.5" width="7.3" height="66.5" fill="url(#hf)" stroke="#777" stroke-width="0.8"/></g>
<line x1="201.5" y1="541.7" x2="201.5" y2="528.5" stroke="#333" stroke-width="0.9"/>
<line x1="200.3" y1="528.9" x2="202.7" y2="528.9" stroke="#333" stroke-width="0.9"/>
<g transform="translate(204.79,608.2)"><rect x="0" y="-65.9" width="7.3" height="65.9" fill="#fff"/><rect x="0" y="-65.9" width="7.3" height="65.9" fill="url(#hb)" stroke="#777" stroke-width="0.8"/></g>
<line x1="208.5" y1="542.3" x2="208.5" y2="532.6" stroke="#333" stroke-width="0.9"/>
<line x1="207.3" y1="533" x2="209.7" y2="533" stroke="#333" stroke-width="0.9"/>
<g transform="translate(212.09,608.2)"><rect x="0" y="-21.9" width="7.3" height="21.9" fill="#fff"/><rect x="0" y="-21.9" width="7.3" height="21.9" fill="url(#hx)" stroke="#777" stroke-width="0.8"/></g>
<line x1="216.5" y1="586.3" x2="216.5" y2="575.4" stroke="#333" stroke-width="0.9"/>
<line x1="215.3" y1="575.8" x2="217.7" y2="575.8" stroke="#333" stroke-width="0.9"/>
<g transform="translate(219.39,608.2)"><rect x="0" y="-21.5" width="7.3" height="21.5" fill="#fff"/><rect x="0" y="-21.5" width="7.3" height="21.5" fill="url(#hh)" stroke="#777" stroke-width="0.8"/></g>
<line x1="223.5" y1="586.7" x2="223.5" y2="574.3" stroke="#333" stroke-width="0.9"/>
<line x1="222.3" y1="574.7" x2="224.7" y2="574.7" stroke="#333" stroke-width="0.9"/>
<g transform="translate(233.02,608.2)"><rect x="0" y="-125.8" width="7.3" height="125.8" fill="#fff"/><rect x="0" y="-125.8" width="7.3" height="125.8" fill="url(#hf)" stroke="#777" stroke-width="0.8"/></g>
<line x1="236.5" y1="482.4" x2="236.5" y2="463.3" stroke="#333" stroke-width="0.9"/>
<line x1="235.3" y1="463.7" x2="237.7" y2="463.7" stroke="#333" stroke-width="0.9"/>
<g transform="translate(240.32,608.2)"><rect x="0" y="-74.8" width="7.3" height="74.8" fill="#fff"/><rect x="0" y="-74.8" width="7.3" height="74.8" fill="url(#hb)" stroke="#777" stroke-width="0.8"/></g>
<line x1="244.5" y1="533.4" x2="244.5" y2="523.7" stroke="#333" stroke-width="0.9"/>
<line x1="243.3" y1="524.1" x2="245.7" y2="524.1" stroke="#333" stroke-width="0.9"/>
<g transform="translate(247.62,608.2)"><rect x="0" y="-26.6" width="7.3" height="26.6" fill="#fff"/><rect x="0" y="-26.6" width="7.3" height="26.6" fill="url(#hx)" stroke="#777" stroke-width="0.8"/></g>
<line x1="251.5" y1="581.6" x2="251.5" y2="572.3" stroke="#333" stroke-width="0.9"/>
<line x1="250.3" y1="572.7" x2="252.7" y2="572.7" stroke="#333" stroke-width="0.9"/>
<g transform="translate(254.92,608.2)"><rect x="0" y="-21.5" width="7.3" height="21.5" fill="#fff"/><rect x="0" y="-21.5" width="7.3" height="21.5" fill="url(#hh)" stroke="#777" stroke-width="0.8"/></g>
<line x1="258.5" y1="586.7" x2="258.5" y2="577.9" stroke="#333" stroke-width="0.9"/>
<line x1="257.3" y1="578.3" x2="259.7" y2="578.3" stroke="#333" stroke-width="0.9"/>
<g transform="translate(268.55,608.2)"><rect x="0" y="-90.7" width="7.3" height="90.7" fill="#fff"/><rect x="0" y="-90.7" width="7.3" height="90.7" fill="url(#hf)" stroke="#777" stroke-width="0.8"/></g>
<line x1="272.5" y1="517.5" x2="272.5" y2="501.4" stroke="#333" stroke-width="0.9"/>
<line x1="271.3" y1="501.8" x2="273.7" y2="501.8" stroke="#333" stroke-width="0.9"/>
<g transform="translate(275.85,608.2)"><rect x="0" y="-73.1" width="7.3" height="73.1" fill="#fff"/><rect x="0" y="-73.1" width="7.3" height="73.1" fill="url(#hb)" stroke="#777" stroke-width="0.8"/></g>
<line x1="279.5" y1="535.1" x2="279.5" y2="526.4" stroke="#333" stroke-width="0.9"/>
<line x1="278.3" y1="526.8" x2="280.7" y2="526.8" stroke="#333" stroke-width="0.9"/>
<g transform="translate(283.15,608.2)"><rect x="0" y="-22.9" width="7.3" height="22.9" fill="#fff"/><rect x="0" y="-22.9" width="7.3" height="22.9" fill="url(#hx)" stroke="#777" stroke-width="0.8"/></g>
<line x1="287.5" y1="585.3" x2="287.5" y2="575.4" stroke="#333" stroke-width="0.9"/>
<line x1="286.3" y1="575.8" x2="288.7" y2="575.8" stroke="#333" stroke-width="0.9"/>
<g transform="translate(290.45,608.2)"><rect x="0" y="-22.1" width="7.3" height="22.1" fill="#fff"/><rect x="0" y="-22.1" width="7.3" height="22.1" fill="url(#hh)" stroke="#777" stroke-width="0.8"/></g>
<line x1="294.5" y1="586.1" x2="294.5" y2="577" stroke="#333" stroke-width="0.9"/>
<line x1="293.3" y1="577.4" x2="295.7" y2="577.4" stroke="#333" stroke-width="0.9"/>
<g transform="translate(304.08,608.2)"><rect x="0" y="-96.9" width="7.3" height="96.9" fill="#fff"/><rect x="0" y="-96.9" width="7.3" height="96.9" fill="url(#hf)" stroke="#777" stroke-width="0.8"/></g>
<line x1="308.5" y1="511.3" x2="308.5" y2="491.7" stroke="#333" stroke-width="0.9"/>
<line x1="307.3" y1="492.1" x2="309.7" y2="492.1" stroke="#333" stroke-width="0.9"/>
<g transform="translate(311.38,608.2)"><rect x="0" y="-76.6" width="7.3" height="76.6" fill="#fff"/><rect x="0" y="-76.6" width="7.3" height="76.6" fill="url(#hb)" stroke="#777" stroke-width="0.8"/></g>
<line x1="315.5" y1="531.6" x2="315.5" y2="523.3" stroke="#333" stroke-width="0.9"/>
<line x1="314.3" y1="523.7" x2="316.7" y2="523.7" stroke="#333" stroke-width="0.9"/>
<g transform="translate(318.68,608.2)"><rect x="0" y="-28.7" width="7.3" height="28.7" fill="#fff"/><rect x="0" y="-28.7" width="7.3" height="28.7" fill="url(#hx)" stroke="#777" stroke-width="0.8"/></g>
<line x1="322.5" y1="579.5" x2="322.5" y2="566.7" stroke="#333" stroke-width="0.9"/>
<line x1="321.3" y1="567.1" x2="323.7" y2="567.1" stroke="#333" stroke-width="0.9"/>
<g transform="translate(325.98,608.2)"><rect x="0" y="-25.6" width="7.3" height="25.6" fill="#fff"/><rect x="0" y="-25.6" width="7.3" height="25.6" fill="url(#hh)" stroke="#777" stroke-width="0.8"/></g>
<line x1="329.5" y1="582.6" x2="329.5" y2="576" stroke="#333" stroke-width="0.9"/>
<line x1="328.3" y1="576.4" x2="330.7" y2="576.4" stroke="#333" stroke-width="0.9"/>
<rect x="333.28" y="582.49" width="6.33" height="25.71" fill="#fff" stroke="#777" stroke-width="0.8"/>
<g transform="translate(339.61,608.2)"><rect x="0" y="-74.1" width="7.3" height="74.1" fill="#fff"/><rect x="0" y="-74.1" width="7.3" height="74.1" fill="url(#hf)" stroke="#777" stroke-width="0.8"/></g>
<line x1="343.5" y1="534.1" x2="343.5" y2="519.3" stroke="#333" stroke-width="0.9"/>
<line x1="342.3" y1="519.7" x2="344.7" y2="519.7" stroke="#333" stroke-width="0.9"/>
<g transform="translate(346.91,608.2)"><rect x="0" y="-71.7" width="7.3" height="71.7" fill="#fff"/><rect x="0" y="-71.7" width="7.3" height="71.7" fill="url(#hb)" stroke="#777" stroke-width="0.8"/></g>
<line x1="350.5" y1="536.5" x2="350.5" y2="524" stroke="#333" stroke-width="0.9"/>
<line x1="349.3" y1="524.4" x2="351.7" y2="524.4" stroke="#333" stroke-width="0.9"/>
<g transform="translate(354.21,608.2)"><rect x="0" y="-24.3" width="7.3" height="24.3" fill="#fff"/><rect x="0" y="-24.3" width="7.3" height="24.3" fill="url(#hx)" stroke="#777" stroke-width="0.8"/></g>
<line x1="358.5" y1="583.9" x2="358.5" y2="572.6" stroke="#333" stroke-width="0.9"/>
<line x1="357.3" y1="573" x2="359.7" y2="573" stroke="#333" stroke-width="0.9"/>
<g transform="translate(361.51,608.2)"><rect x="0" y="-26.7" width="7.3" height="26.7" fill="#fff"/><rect x="0" y="-26.7" width="7.3" height="26.7" fill="url(#hh)" stroke="#777" stroke-width="0.8"/></g>
<line x1="365.5" y1="581.5" x2="365.5" y2="569.1" stroke="#333" stroke-width="0.9"/>
<line x1="364.3" y1="569.5" x2="366.7" y2="569.5" stroke="#333" stroke-width="0.9"/>
<line x1="66.2" y1="582.49" x2="377.7" y2="582.49" stroke="#555" stroke-width="0.9" stroke-dasharray="10 4"/>
<text x="129.6" y="534.87" font-size="21" font-weight="normal" style="stroke-width:0.35px" text-anchor="middle">*</text>
<text x="137.3" y="518.27" font-size="21" font-weight="normal" style="stroke-width:0.35px" text-anchor="middle">*</text>
<text x="165.3" y="517.47" font-size="21" font-weight="normal" style="stroke-width:0.35px" text-anchor="middle">*</text>
<text x="172.4" y="517.47" font-size="21" font-weight="normal" style="stroke-width:0.35px" text-anchor="middle">*</text>
<text x="201.7" y="520.87" font-size="21" font-weight="normal" style="stroke-width:0.35px" text-anchor="middle">*</text>
<text x="208.6" y="524.97" font-size="21" font-weight="normal" style="stroke-width:0.35px" text-anchor="middle">*</text>
<text x="236.8" y="455.47" font-size="21" font-weight="normal" style="stroke-width:0.35px" text-anchor="middle">*</text>
<text x="244.2" y="516.47" font-size="21" font-weight="normal" style="stroke-width:0.35px" text-anchor="middle">*</text>
<text x="272.6" y="494.57" font-size="21" font-weight="normal" style="stroke-width:0.35px" text-anchor="middle">*</text>
<text x="278.9" y="518.37" font-size="21" font-weight="normal" style="stroke-width:0.35px" text-anchor="middle">*</text>
<text x="308" y="483.97" font-size="21" font-weight="normal" style="stroke-width:0.35px" text-anchor="middle">*</text>
<text x="315.5" y="516.47" font-size="21" font-weight="normal" style="stroke-width:0.35px" text-anchor="middle">*</text>
<text x="343" y="511.87" font-size="21" font-weight="normal" style="stroke-width:0.35px" text-anchor="middle">*</text>
<text x="351.4" y="516.37" font-size="21" font-weight="normal" style="stroke-width:0.35px" text-anchor="middle">*</text>
<line x1="66.2" y1="638.6" x2="66.2" y2="819.1" stroke="#6a6a6a" stroke-width="1.2"/>
<line x1="65.2" y1="819.3" x2="386.2" y2="819.3" stroke="#4a4a4a" stroke-width="1.3"/>
<line x1="66.2" y1="638.6" x2="70" y2="638.6" stroke="#6a6a6a" stroke-width="1.2"/>
<text x="60.2" y="642.2" font-size="11.4" text-anchor="end">220</text>
<line x1="66.2" y1="664.39" x2="70" y2="664.39" stroke="#6a6a6a" stroke-width="1.2"/>
<text x="60.2" y="667.99" font-size="11.4" text-anchor="end">200</text>
<line x1="66.2" y1="690.17" x2="70" y2="690.17" stroke="#6a6a6a" stroke-width="1.2"/>
<text x="60.2" y="693.77" font-size="11.4" text-anchor="end">180</text>
<line x1="66.2" y1="715.96" x2="70" y2="715.96" stroke="#6a6a6a" stroke-width="1.2"/>
<text x="60.2" y="719.56" font-size="11.4" text-anchor="end">160</text>
<line x1="66.2" y1="741.74" x2="70" y2="741.74" stroke="#6a6a6a" stroke-width="1.2"/>
<text x="60.2" y="745.34" font-size="11.4" text-anchor="end">140</text>
<line x1="66.2" y1="767.53" x2="70" y2="767.53" stroke="#6a6a6a" stroke-width="1.2"/>
<text x="60.2" y="771.13" font-size="11.4" text-anchor="end">120</text>
<line x1="66.2" y1="793.31" x2="70" y2="793.31" stroke="#6a6a6a" stroke-width="1.2"/>
<text x="60.2" y="796.91" font-size="11.4" text-anchor="end">100</text>
<line x1="66.2" y1="819.1" x2="70" y2="819.1" stroke="#6a6a6a" stroke-width="1.2"/>
<text x="60.2" y="822.7" font-size="11.4" text-anchor="end">80</text>
<text x="1" y="646.4" font-size="16" font-weight="bold">D</text>
<text transform="translate(10.3,728.85) rotate(-90)" font-size="12.75" text-anchor="middle">p70S6k phosphorylation</text>
<text transform="translate(26.6,728.85) rotate(-90)" font-size="12.75" text-anchor="middle">(% of control)</text>
<g transform="translate(90.9,819.1)"><rect x="0" y="-26.5" width="7.3" height="26.5" fill="#fff"/><rect x="0" y="-26.5" width="7.3" height="26.5" fill="url(#hf)" stroke="#777" stroke-width="0.8"/></g>
<line x1="94.5" y1="792.6" x2="94.5" y2="784.8" stroke="#333" stroke-width="0.9"/>
<line x1="93.3" y1="785.2" x2="95.7" y2="785.2" stroke="#333" stroke-width="0.9"/>
<g transform="translate(98.2,819.1)"><rect x="0" y="-41.6" width="7.3" height="41.6" fill="#fff"/><rect x="0" y="-41.6" width="7.3" height="41.6" fill="url(#hb)" stroke="#777" stroke-width="0.8"/></g>
<line x1="102.5" y1="777.5" x2="102.5" y2="762.2" stroke="#333" stroke-width="0.9"/>
<line x1="101.3" y1="762.6" x2="103.7" y2="762.6" stroke="#333" stroke-width="0.9"/>
<g transform="translate(105.5,819.1)"><rect x="0" y="-22.4" width="7.3" height="22.4" fill="#fff"/><rect x="0" y="-22.4" width="7.3" height="22.4" fill="url(#hx)" stroke="#777" stroke-width="0.8"/></g>
<line x1="109.5" y1="796.7" x2="109.5" y2="787.4" stroke="#333" stroke-width="0.9"/>
<line x1="108.3" y1="787.8" x2="110.7" y2="787.8" stroke="#333" stroke-width="0.9"/>
<g transform="translate(112.8,819.1)"><rect x="0" y="-29.2" width="7.3" height="29.2" fill="#fff"/><rect x="0" y="-29.2" width="7.3" height="29.2" fill="url(#hh)" stroke="#777" stroke-width="0.8"/></g>
<line x1="116.5" y1="789.9" x2="116.5" y2="777.5" stroke="#333" stroke-width="0.9"/>
<line x1="115.3" y1="777.9" x2="117.7" y2="777.9" stroke="#333" stroke-width="0.9"/>
<g transform="translate(126.43,819.1)"><rect x="0" y="-46.7" width="7.3" height="46.7" fill="#fff"/><rect x="0" y="-46.7" width="7.3" height="46.7" fill="url(#hf)" stroke="#777" stroke-width="0.8"/></g>
<line x1="130.5" y1="772.4" x2="130.5" y2="766.4" stroke="#333" stroke-width="0.9"/>
<line x1="129.3" y1="766.8" x2="131.7" y2="766.8" stroke="#333" stroke-width="0.9"/>
<g transform="translate(133.73,819.1)"><rect x="0" y="-62.7" width="7.3" height="62.7" fill="#fff"/><rect x="0" y="-62.7" width="7.3" height="62.7" fill="url(#hb)" stroke="#777" stroke-width="0.8"/></g>
<line x1="137.5" y1="756.4" x2="137.5" y2="738.5" stroke="#333" stroke-width="0.9"/>
<line x1="136.3" y1="738.9" x2="138.7" y2="738.9" stroke="#333" stroke-width="0.9"/>
<g transform="translate(141.03,819.1)"><rect x="0" y="-22.4" width="7.3" height="22.4" fill="#fff"/><rect x="0" y="-22.4" width="7.3" height="22.4" fill="url(#hx)" stroke="#777" stroke-width="0.8"/></g>
<line x1="144.5" y1="796.7" x2="144.5" y2="789.5" stroke="#333" stroke-width="0.9"/>
<line x1="143.3" y1="789.9" x2="145.7" y2="789.9" stroke="#333" stroke-width="0.9"/>
<g transform="translate(148.33,819.1)"><rect x="0" y="-23.8" width="7.3" height="23.8" fill="#fff"/><rect x="0" y="-23.8" width="7.3" height="23.8" fill="url(#hh)" stroke="#777" stroke-width="0.8"/></g>
<line x1="152.5" y1="795.3" x2="152.5" y2="784.3" stroke="#333" stroke-width="0.9"/>
<line x1="151.3" y1="784.7" x2="153.7" y2="784.7" stroke="#333" stroke-width="0.9"/>
<g transform="translate(161.96,819.1)"><rect x="0" y="-72.6" width="7.3" height="72.6" fill="#fff"/><rect x="0" y="-72.6" width="7.3" height="72.6" fill="url(#hf)" stroke="#777" stroke-width="0.8"/></g>
<line x1="165.5" y1="746.5" x2="165.5" y2="733.7" stroke="#333" stroke-width="0.9"/>
<line x1="164.3" y1="734.1" x2="166.7" y2="734.1" stroke="#333" stroke-width="0.9"/>
<g transform="translate(169.26,819.1)"><rect x="0" y="-64.7" width="7.3" height="64.7" fill="#fff"/><rect x="0" y="-64.7" width="7.3" height="64.7" fill="url(#hb)" stroke="#777" stroke-width="0.8"/></g>
<line x1="173.5" y1="754.4" x2="173.5" y2="738.2" stroke="#333" stroke-width="0.9"/>
<line x1="172.3" y1="738.6" x2="174.7" y2="738.6" stroke="#333" stroke-width="0.9"/>
<g transform="translate(176.56,819.1)"><rect x="0" y="-23.8" width="7.3" height="23.8" fill="#fff"/><rect x="0" y="-23.8" width="7.3" height="23.8" fill="url(#hx)" stroke="#777" stroke-width="0.8"/></g>
<line x1="180.5" y1="795.3" x2="180.5" y2="784.3" stroke="#333" stroke-width="0.9"/>
<line x1="179.3" y1="784.7" x2="181.7" y2="784.7" stroke="#333" stroke-width="0.9"/>
<g transform="translate(183.86,819.1)"><rect x="0" y="-25.9" width="7.3" height="25.9" fill="#fff"/><rect x="0" y="-25.9" width="7.3" height="25.9" fill="url(#hh)" stroke="#777" stroke-width="0.8"/></g>
<line x1="187.5" y1="793.2" x2="187.5" y2="781.7" stroke="#333" stroke-width="0.9"/>
<line x1="186.3" y1="782.1" x2="188.7" y2="782.1" stroke="#333" stroke-width="0.9"/>
<g transform="translate(197.49,819.1)"><rect x="0" y="-97.8" width="7.3" height="97.8" fill="#fff"/><rect x="0" y="-97.8" width="7.3" height="97.8" fill="url(#hf)" stroke="#777" stroke-width="0.8"/></g>
<line x1="201.5" y1="721.3" x2="201.5" y2="704.1" stroke="#333" stroke-width="0.9"/>
<line x1="200.3" y1="704.5" x2="202.7" y2="704.5" stroke="#333" stroke-width="0.9"/>
<g transform="translate(204.79,819.1)"><rect x="0" y="-112.7" width="7.3" height="112.7" fill="#fff"/><rect x="0" y="-112.7" width="7.3" height="112.7" fill="url(#hb)" stroke="#777" stroke-width="0.8"/></g>
<line x1="208.5" y1="706.4" x2="208.5" y2="696.5" stroke="#333" stroke-width="0.9"/>
<line x1="207.3" y1="696.9" x2="209.7" y2="696.9" stroke="#333" stroke-width="0.9"/>
<g transform="translate(212.09,819.1)"><rect x="0" y="-20.9" width="7.3" height="20.9" fill="#fff"/><rect x="0" y="-20.9" width="7.3" height="20.9" fill="url(#hx)" stroke="#777" stroke-width="0.8"/></g>
<line x1="216.5" y1="798.2" x2="216.5" y2="786" stroke="#333" stroke-width="0.9"/>
<line x1="215.3" y1="786.4" x2="217.7" y2="786.4" stroke="#333" stroke-width="0.9"/>
<g transform="translate(219.39,819.1)"><rect x="0" y="-23" width="7.3" height="23" fill="#fff"/><rect x="0" y="-23" width="7.3" height="23" fill="url(#hh)" stroke="#777" stroke-width="0.8"/></g>
<line x1="223.5" y1="796.1" x2="223.5" y2="783.3" stroke="#333" stroke-width="0.9"/>
<line x1="222.3" y1="783.7" x2="224.7" y2="783.7" stroke="#333" stroke-width="0.9"/>
<g transform="translate(233.02,819.1)"><rect x="0" y="-92.6" width="7.3" height="92.6" fill="#fff"/><rect x="0" y="-92.6" width="7.3" height="92.6" fill="url(#hf)" stroke="#777" stroke-width="0.8"/></g>
<line x1="236.5" y1="726.5" x2="236.5" y2="709.3" stroke="#333" stroke-width="0.9"/>
<line x1="235.3" y1="709.7" x2="237.7" y2="709.7" stroke="#333" stroke-width="0.9"/>
<g transform="translate(240.32,819.1)"><rect x="0" y="-101.5" width="7.3" height="101.5" fill="#fff"/><rect x="0" y="-101.5" width="7.3" height="101.5" fill="url(#hb)" stroke="#777" stroke-width="0.8"/></g>
<line x1="244.5" y1="717.6" x2="244.5" y2="705.4" stroke="#333" stroke-width="0.9"/>
<line x1="243.3" y1="705.8" x2="245.7" y2="705.8" stroke="#333" stroke-width="0.9"/>
<g transform="translate(247.62,819.1)"><rect x="0" y="-27.1" width="7.3" height="27.1" fill="#fff"/><rect x="0" y="-27.1" width="7.3" height="27.1" fill="url(#hx)" stroke="#777" stroke-width="0.8"/></g>
<line x1="251.5" y1="792" x2="251.5" y2="780.2" stroke="#333" stroke-width="0.9"/>
<line x1="250.3" y1="780.6" x2="252.7" y2="780.6" stroke="#333" stroke-width="0.9"/>
<g transform="translate(254.92,819.1)"><rect x="0" y="-23.4" width="7.3" height="23.4" fill="#fff"/><rect x="0" y="-23.4" width="7.3" height="23.4" fill="url(#hh)" stroke="#777" stroke-width="0.8"/></g>
<line x1="258.5" y1="795.7" x2="258.5" y2="783.7" stroke="#333" stroke-width="0.9"/>
<line x1="257.3" y1="784.1" x2="259.7" y2="784.1" stroke="#333" stroke-width="0.9"/>
<g transform="translate(268.55,819.1)"><rect x="0" y="-90.2" width="7.3" height="90.2" fill="#fff"/><rect x="0" y="-90.2" width="7.3" height="90.2" fill="url(#hf)" stroke="#777" stroke-width="0.8"/></g>
<line x1="272.5" y1="728.9" x2="272.5" y2="716.1" stroke="#333" stroke-width="0.9"/>
<line x1="271.3" y1="716.5" x2="273.7" y2="716.5" stroke="#333" stroke-width="0.9"/>
<g transform="translate(275.85,819.1)"><rect x="0" y="-74.4" width="7.3" height="74.4" fill="#fff"/><rect x="0" y="-74.4" width="7.3" height="74.4" fill="url(#hb)" stroke="#777" stroke-width="0.8"/></g>
<line x1="279.5" y1="744.7" x2="279.5" y2="732.2" stroke="#333" stroke-width="0.9"/>
<line x1="278.3" y1="732.6" x2="280.7" y2="732.6" stroke="#333" stroke-width="0.9"/>
<g transform="translate(283.15,819.1)"><rect x="0" y="-25.9" width="7.3" height="25.9" fill="#fff"/><rect x="0" y="-25.9" width="7.3" height="25.9" fill="url(#hx)" stroke="#777" stroke-width="0.8"/></g>
<line x1="287.5" y1="793.2" x2="287.5" y2="784.3" stroke="#333" stroke-width="0.9"/>
<line x1="286.3" y1="784.7" x2="288.7" y2="784.7" stroke="#333" stroke-width="0.9"/>
<g transform="translate(290.45,819.1)"><rect x="0" y="-23" width="7.3" height="23" fill="#fff"/><rect x="0" y="-23" width="7.3" height="23" fill="url(#hh)" stroke="#777" stroke-width="0.8"/></g>
<line x1="294.5" y1="796.1" x2="294.5" y2="785.4" stroke="#333" stroke-width="0.9"/>
<line x1="293.3" y1="785.8" x2="295.7" y2="785.8" stroke="#333" stroke-width="0.9"/>
<g transform="translate(304.08,819.1)"><rect x="0" y="-89.5" width="7.3" height="89.5" fill="#fff"/><rect x="0" y="-89.5" width="7.3" height="89.5" fill="url(#hf)" stroke="#777" stroke-width="0.8"/></g>
<line x1="308.5" y1="729.6" x2="308.5" y2="722.3" stroke="#333" stroke-width="0.9"/>
<line x1="307.3" y1="722.7" x2="309.7" y2="722.7" stroke="#333" stroke-width="0.9"/>
<g transform="translate(311.38,819.1)"><rect x="0" y="-76.1" width="7.3" height="76.1" fill="#fff"/><rect x="0" y="-76.1" width="7.3" height="76.1" fill="url(#hb)" stroke="#777" stroke-width="0.8"/></g>
<line x1="315.5" y1="743" x2="315.5" y2="729.6" stroke="#333" stroke-width="0.9"/>
<line x1="314.3" y1="730" x2="316.7" y2="730" stroke="#333" stroke-width="0.9"/>
<g transform="translate(318.68,819.1)"><rect x="0" y="-25.5" width="7.3" height="25.5" fill="#fff"/><rect x="0" y="-25.5" width="7.3" height="25.5" fill="url(#hx)" stroke="#777" stroke-width="0.8"/></g>
<line x1="322.5" y1="793.6" x2="322.5" y2="785.4" stroke="#333" stroke-width="0.9"/>
<line x1="321.3" y1="785.8" x2="323.7" y2="785.8" stroke="#333" stroke-width="0.9"/>
<g transform="translate(325.98,819.1)"><rect x="0" y="-25.2" width="7.3" height="25.2" fill="#fff"/><rect x="0" y="-25.2" width="7.3" height="25.2" fill="url(#hh)" stroke="#777" stroke-width="0.8"/></g>
<line x1="329.5" y1="793.9" x2="329.5" y2="783.6" stroke="#333" stroke-width="0.9"/>
<line x1="328.3" y1="784" x2="330.7" y2="784" stroke="#333" stroke-width="0.9"/>
<rect x="333.28" y="793.31" width="6.33" height="25.79" fill="#fff" stroke="#777" stroke-width="0.8"/>
<g transform="translate(339.61,819.1)"><rect x="0" y="-99.7" width="7.3" height="99.7" fill="#fff"/><rect x="0" y="-99.7" width="7.3" height="99.7" fill="url(#hf)" stroke="#777" stroke-width="0.8"/></g>
<line x1="343.5" y1="719.4" x2="343.5" y2="700" stroke="#333" stroke-width="0.9"/>
<line x1="342.3" y1="700.4" x2="344.7" y2="700.4" stroke="#333" stroke-width="0.9"/>
<g transform="translate(346.91,819.1)"><rect x="0" y="-72.6" width="7.3" height="72.6" fill="#fff"/><rect x="0" y="-72.6" width="7.3" height="72.6" fill="url(#hb)" stroke="#777" stroke-width="0.8"/></g>
<line x1="350.5" y1="746.5" x2="350.5" y2="733.2" stroke="#333" stroke-width="0.9"/>
<line x1="349.3" y1="733.6" x2="351.7" y2="733.6" stroke="#333" stroke-width="0.9"/>
<g transform="translate(354.21,819.1)"><rect x="0" y="-22.6" width="7.3" height="22.6" fill="#fff"/><rect x="0" y="-22.6" width="7.3" height="22.6" fill="url(#hx)" stroke="#777" stroke-width="0.8"/></g>
<line x1="358.5" y1="796.5" x2="358.5" y2="784.4" stroke="#333" stroke-width="0.9"/>
<line x1="357.3" y1="784.8" x2="359.7" y2="784.8" stroke="#333" stroke-width="0.9"/>
<g transform="translate(361.51,819.1)"><rect x="0" y="-21.8" width="7.3" height="21.8" fill="#fff"/><rect x="0" y="-21.8" width="7.3" height="21.8" fill="url(#hh)" stroke="#777" stroke-width="0.8"/></g>
<line x1="365.5" y1="797.3" x2="365.5" y2="786.4" stroke="#333" stroke-width="0.9"/>
<line x1="364.3" y1="786.8" x2="366.7" y2="786.8" stroke="#333" stroke-width="0.9"/>
<line x1="66.2" y1="793.31" x2="378.3" y2="793.31" stroke="#555" stroke-width="0.9" stroke-dasharray="10 4"/>
<text x="130.3" y="758.87" font-size="21" font-weight="normal" style="stroke-width:0.35px" text-anchor="middle">*</text>
<text x="137.7" y="730.67" font-size="21" font-weight="normal" style="stroke-width:0.35px" text-anchor="middle">*</text>
<text x="165.5" y="726.47" font-size="21" font-weight="normal" style="stroke-width:0.35px" text-anchor="middle">*</text>
<text x="173.2" y="730.67" font-size="21" font-weight="normal" style="stroke-width:0.35px" text-anchor="middle">*</text>
<text x="202.3" y="696.07" font-size="21" font-weight="normal" style="stroke-width:0.35px" text-anchor="middle">*</text>
<text x="209.3" y="687.77" font-size="21" font-weight="normal" style="stroke-width:0.35px" text-anchor="middle">*</text>
<text x="237.2" y="702.27" font-size="21" font-weight="normal" style="stroke-width:0.35px" text-anchor="middle">*</text>
<text x="244.2" y="698.57" font-size="21" font-weight="normal" style="stroke-width:0.35px" text-anchor="middle">*</text>
<text x="272.1" y="708.77" font-size="21" font-weight="normal" style="stroke-width:0.35px" text-anchor="middle">*</text>
<text x="280.6" y="725.07" font-size="21" font-weight="normal" style="stroke-width:0.35px" text-anchor="middle">*</text>
<text x="309.1" y="715.17" font-size="21" font-weight="normal" style="stroke-width:0.35px" text-anchor="middle">*</text>
<text x="315.9" y="721.87" font-size="21" font-weight="normal" style="stroke-width:0.35px" text-anchor="middle">*</text>
<text x="344" y="692.87" font-size="21" font-weight="normal" style="stroke-width:0.35px" text-anchor="middle">*</text>
<text x="351.6" y="726.47" font-size="21" font-weight="normal" style="stroke-width:0.35px" text-anchor="middle">*</text>
<line x1="66.2" y1="853.4" x2="66.2" y2="1033.2" stroke="#6a6a6a" stroke-width="1.2"/>
<line x1="65.2" y1="1033.4" x2="386.2" y2="1033.4" stroke="#4a4a4a" stroke-width="1.3"/>
<line x1="66.2" y1="853.4" x2="70" y2="853.4" stroke="#6a6a6a" stroke-width="1.2"/>
<text x="60.2" y="857" font-size="11.4" text-anchor="end">220</text>
<line x1="66.2" y1="879.09" x2="70" y2="879.09" stroke="#6a6a6a" stroke-width="1.2"/>
<text x="60.2" y="882.69" font-size="11.4" text-anchor="end">200</text>
<line x1="66.2" y1="904.77" x2="70" y2="904.77" stroke="#6a6a6a" stroke-width="1.2"/>
<text x="60.2" y="908.37" font-size="11.4" text-anchor="end">180</text>
<line x1="66.2" y1="930.46" x2="70" y2="930.46" stroke="#6a6a6a" stroke-width="1.2"/>
<text x="60.2" y="934.06" font-size="11.4" text-anchor="end">160</text>
<line x1="66.2" y1="956.14" x2="70" y2="956.14" stroke="#6a6a6a" stroke-width="1.2"/>
<text x="60.2" y="959.74" font-size="11.4" text-anchor="end">140</text>
<line x1="66.2" y1="981.83" x2="70" y2="981.83" stroke="#6a6a6a" stroke-width="1.2"/>
<text x="60.2" y="985.43" font-size="11.4" text-anchor="end">120</text>
<line x1="66.2" y1="1007.51" x2="70" y2="1007.51" stroke="#6a6a6a" stroke-width="1.2"/>
<text x="60.2" y="1011.11" font-size="11.4" text-anchor="end">100</text>
<line x1="66.2" y1="1033.2" x2="70" y2="1033.2" stroke="#6a6a6a" stroke-width="1.2"/>
<text x="60.2" y="1036.8" font-size="11.4" text-anchor="end">80</text>
<text x="1" y="860.8" font-size="16" font-weight="bold">E</text>
<text transform="translate(10.3,943.3) rotate(-90)" font-size="12.75" text-anchor="middle">4E-BP1 phosphorylation</text>
<text transform="translate(26.6,943.3) rotate(-90)" font-size="12.75" text-anchor="middle">(% of control)</text>
<g transform="translate(90.9,1033.2)"><rect x="0" y="-24.6" width="7.3" height="24.6" fill="#fff"/><rect x="0" y="-24.6" width="7.3" height="24.6" fill="url(#hf)" stroke="#777" stroke-width="0.8"/></g>
<line x1="94.5" y1="1008.6" x2="94.5" y2="1004.3" stroke="#333" stroke-width="0.9"/>
<line x1="93.3" y1="1004.7" x2="95.7" y2="1004.7" stroke="#333" stroke-width="0.9"/>
<g transform="translate(98.2,1033.2)"><rect x="0" y="-19.6" width="7.3" height="19.6" fill="#fff"/><rect x="0" y="-19.6" width="7.3" height="19.6" fill="url(#hb)" stroke="#777" stroke-width="0.8"/></g>
<line x1="102.5" y1="1013.6" x2="102.5" y2="995.6" stroke="#333" stroke-width="0.9"/>
<line x1="101.3" y1="996" x2="103.7" y2="996" stroke="#333" stroke-width="0.9"/>
<g transform="translate(105.5,1033.2)"><rect x="0" y="-26.2" width="7.3" height="26.2" fill="#fff"/><rect x="0" y="-26.2" width="7.3" height="26.2" fill="url(#hx)" stroke="#777" stroke-width="0.8"/></g>
<line x1="109.5" y1="1007" x2="109.5" y2="998.7" stroke="#333" stroke-width="0.9"/>
<line x1="108.3" y1="999.1" x2="110.7" y2="999.1" stroke="#333" stroke-width="0.9"/>
<g transform="translate(112.8,1033.2)"><rect x="0" y="-26.8" width="7.3" height="26.8" fill="#fff"/><rect x="0" y="-26.8" width="7.3" height="26.8" fill="url(#hh)" stroke="#777" stroke-width="0.8"/></g>
<line x1="116.5" y1="1006.4" x2="116.5" y2="996.6" stroke="#333" stroke-width="0.9"/>
<line x1="115.3" y1="997" x2="117.7" y2="997" stroke="#333" stroke-width="0.9"/>
<g transform="translate(126.43,1033.2)"><rect x="0" y="-70.3" width="7.3" height="70.3" fill="#fff"/><rect x="0" y="-70.3" width="7.3" height="70.3" fill="url(#hf)" stroke="#777" stroke-width="0.8"/></g>
<line x1="130.5" y1="962.9" x2="130.5" y2="955.3" stroke="#333" stroke-width="0.9"/>
<line x1="129.3" y1="955.7" x2="131.7" y2="955.7" stroke="#333" stroke-width="0.9"/>
<g transform="translate(133.73,1033.2)"><rect x="0" y="-68.2" width="7.3" height="68.2" fill="#fff"/><rect x="0" y="-68.2" width="7.3" height="68.2" fill="url(#hb)" stroke="#777" stroke-width="0.8"/></g>
<line x1="137.5" y1="965" x2="137.5" y2="951.2" stroke="#333" stroke-width="0.9"/>
<line x1="136.3" y1="951.6" x2="138.7" y2="951.6" stroke="#333" stroke-width="0.9"/>
<g transform="translate(141.03,1033.2)"><rect x="0" y="-22.7" width="7.3" height="22.7" fill="#fff"/><rect x="0" y="-22.7" width="7.3" height="22.7" fill="url(#hx)" stroke="#777" stroke-width="0.8"/></g>
<line x1="144.5" y1="1010.5" x2="144.5" y2="1000.4" stroke="#333" stroke-width="0.9"/>
<line x1="143.3" y1="1000.8" x2="145.7" y2="1000.8" stroke="#333" stroke-width="0.9"/>
<g transform="translate(148.33,1033.2)"><rect x="0" y="-22.7" width="7.3" height="22.7" fill="#fff"/><rect x="0" y="-22.7" width="7.3" height="22.7" fill="url(#hh)" stroke="#777" stroke-width="0.8"/></g>
<line x1="152.5" y1="1010.5" x2="152.5" y2="1000.4" stroke="#333" stroke-width="0.9"/>
<line x1="151.3" y1="1000.8" x2="153.7" y2="1000.8" stroke="#333" stroke-width="0.9"/>
<g transform="translate(161.96,1033.2)"><rect x="0" y="-67.2" width="7.3" height="67.2" fill="#fff"/><rect x="0" y="-67.2" width="7.3" height="67.2" fill="url(#hf)" stroke="#777" stroke-width="0.8"/></g>
<line x1="165.5" y1="966" x2="165.5" y2="952.2" stroke="#333" stroke-width="0.9"/>
<line x1="164.3" y1="952.6" x2="166.7" y2="952.6" stroke="#333" stroke-width="0.9"/>
<g transform="translate(169.26,1033.2)"><rect x="0" y="-56.2" width="7.3" height="56.2" fill="#fff"/><rect x="0" y="-56.2" width="7.3" height="56.2" fill="url(#hb)" stroke="#777" stroke-width="0.8"/></g>
<line x1="173.5" y1="977" x2="173.5" y2="969.1" stroke="#333" stroke-width="0.9"/>
<line x1="172.3" y1="969.5" x2="174.7" y2="969.5" stroke="#333" stroke-width="0.9"/>
<g transform="translate(176.56,1033.2)"><rect x="0" y="-20.6" width="7.3" height="20.6" fill="#fff"/><rect x="0" y="-20.6" width="7.3" height="20.6" fill="url(#hx)" stroke="#777" stroke-width="0.8"/></g>
<line x1="180.5" y1="1012.6" x2="180.5" y2="1000.4" stroke="#333" stroke-width="0.9"/>
<line x1="179.3" y1="1000.8" x2="181.7" y2="1000.8" stroke="#333" stroke-width="0.9"/>
<g transform="translate(183.86,1033.2)"><rect x="0" y="-22.7" width="7.3" height="22.7" fill="#fff"/><rect x="0" y="-22.7" width="7.3" height="22.7" fill="url(#hh)" stroke="#777" stroke-width="0.8"/></g>
<line x1="187.5" y1="1010.5" x2="187.5" y2="1001.2" stroke="#333" stroke-width="0.9"/>
<line x1="186.3" y1="1001.6" x2="188.7" y2="1001.6" stroke="#333" stroke-width="0.9"/>
<g transform="translate(197.49,1033.2)"><rect x="0" y="-69.6" width="7.3" height="69.6" fill="#fff"/><rect x="0" y="-69.6" width="7.3" height="69.6" fill="url(#hf)" stroke="#777" stroke-width="0.8"/></g>
<line x1="201.5" y1="963.6" x2="201.5" y2="945" stroke="#333" stroke-width="0.9"/>
<line x1="200.3" y1="945.4" x2="202.7" y2="945.4" stroke="#333" stroke-width="0.9"/>
<g transform="translate(204.79,1033.2)"><rect x="0" y="-55.2" width="7.3" height="55.2" fill="#fff"/><rect x="0" y="-55.2" width="7.3" height="55.2" fill="url(#hb)" stroke="#777" stroke-width="0.8"/></g>
<line x1="208.5" y1="978" x2="208.5" y2="967.3" stroke="#333" stroke-width="0.9"/>
<line x1="207.3" y1="967.7" x2="209.7" y2="967.7" stroke="#333" stroke-width="0.9"/>
<g transform="translate(212.09,1033.2)"><rect x="0" y="-22.1" width="7.3" height="22.1" fill="#fff"/><rect x="0" y="-22.1" width="7.3" height="22.1" fill="url(#hx)" stroke="#777" stroke-width="0.8"/></g>
<line x1="216.5" y1="1011.1" x2="216.5" y2="999.3" stroke="#333" stroke-width="0.9"/>
<line x1="215.3" y1="999.7" x2="217.7" y2="999.7" stroke="#333" stroke-width="0.9"/>
<g transform="translate(219.39,1033.2)"><rect x="0" y="-23.1" width="7.3" height="23.1" fill="#fff"/><rect x="0" y="-23.1" width="7.3" height="23.1" fill="url(#hh)" stroke="#777" stroke-width="0.8"/></g>
<line x1="223.5" y1="1010.1" x2="223.5" y2="999.7" stroke="#333" stroke-width="0.9"/>
<line x1="222.3" y1="1000.1" x2="224.7" y2="1000.1" stroke="#333" stroke-width="0.9"/>
<g transform="translate(233.02,1033.2)"><rect x="0" y="-71.3" width="7.3" height="71.3" fill="#fff"/><rect x="0" y="-71.3" width="7.3" height="71.3" fill="url(#hf)" stroke="#777" stroke-width="0.8"/></g>
<line x1="236.5" y1="961.9" x2="236.5" y2="947.4" stroke="#333" stroke-width="0.9"/>
<line x1="235.3" y1="947.8" x2="237.7" y2="947.8" stroke="#333" stroke-width="0.9"/>
<g transform="translate(240.32,1033.2)"><rect x="0" y="-56.8" width="7.3" height="56.8" fill="#fff"/><rect x="0" y="-56.8" width="7.3" height="56.8" fill="url(#hb)" stroke="#777" stroke-width="0.8"/></g>
<line x1="244.5" y1="976.4" x2="244.5" y2="965.2" stroke="#333" stroke-width="0.9"/>
<line x1="243.3" y1="965.6" x2="245.7" y2="965.6" stroke="#333" stroke-width="0.9"/>
<g transform="translate(247.62,1033.2)"><rect x="0" y="-22.1" width="7.3" height="22.1" fill="#fff"/><rect x="0" y="-22.1" width="7.3" height="22.1" fill="url(#hx)" stroke="#777" stroke-width="0.8"/></g>
<line x1="251.5" y1="1011.1" x2="251.5" y2="1000.4" stroke="#333" stroke-width="0.9"/>
<line x1="250.3" y1="1000.8" x2="252.7" y2="1000.8" stroke="#333" stroke-width="0.9"/>
<g transform="translate(254.92,1033.2)"><rect x="0" y="-22.1" width="7.3" height="22.1" fill="#fff"/><rect x="0" y="-22.1" width="7.3" height="22.1" fill="url(#hh)" stroke="#777" stroke-width="0.8"/></g>
<line x1="258.5" y1="1011.1" x2="258.5" y2="999.3" stroke="#333" stroke-width="0.9"/>
<line x1="257.3" y1="999.7" x2="259.7" y2="999.7" stroke="#333" stroke-width="0.9"/>
<g transform="translate(268.55,1033.2)"><rect x="0" y="-68.2" width="7.3" height="68.2" fill="#fff"/><rect x="0" y="-68.2" width="7.3" height="68.2" fill="url(#hf)" stroke="#777" stroke-width="0.8"/></g>
<line x1="272.5" y1="965" x2="272.5" y2="953.2" stroke="#333" stroke-width="0.9"/>
<line x1="271.3" y1="953.6" x2="273.7" y2="953.6" stroke="#333" stroke-width="0.9"/>
<g transform="translate(275.85,1033.2)"><rect x="0" y="-57.6" width="7.3" height="57.6" fill="#fff"/><rect x="0" y="-57.6" width="7.3" height="57.6" fill="url(#hb)" stroke="#777" stroke-width="0.8"/></g>
<line x1="279.5" y1="975.6" x2="279.5" y2="968.3" stroke="#333" stroke-width="0.9"/>
<line x1="278.3" y1="968.7" x2="280.7" y2="968.7" stroke="#333" stroke-width="0.9"/>
<g transform="translate(283.15,1033.2)"><rect x="0" y="-21.7" width="7.3" height="21.7" fill="#fff"/><rect x="0" y="-21.7" width="7.3" height="21.7" fill="url(#hx)" stroke="#777" stroke-width="0.8"/></g>
<line x1="287.5" y1="1011.5" x2="287.5" y2="1000.2" stroke="#333" stroke-width="0.9"/>
<line x1="286.3" y1="1000.6" x2="288.7" y2="1000.6" stroke="#333" stroke-width="0.9"/>
<g transform="translate(290.45,1033.2)"><rect x="0" y="-23.1" width="7.3" height="23.1" fill="#fff"/><rect x="0" y="-23.1" width="7.3" height="23.1" fill="url(#hh)" stroke="#777" stroke-width="0.8"/></g>
<line x1="294.5" y1="1010.1" x2="294.5" y2="1002.2" stroke="#333" stroke-width="0.9"/>
<line x1="293.3" y1="1002.6" x2="295.7" y2="1002.6" stroke="#333" stroke-width="0.9"/>
<g transform="translate(304.08,1033.2)"><rect x="0" y="-76.9" width="7.3" height="76.9" fill="#fff"/><rect x="0" y="-76.9" width="7.3" height="76.9" fill="url(#hf)" stroke="#777" stroke-width="0.8"/></g>
<line x1="308.5" y1="956.3" x2="308.5" y2="948.1" stroke="#333" stroke-width="0.9"/>
<line x1="307.3" y1="948.5" x2="309.7" y2="948.5" stroke="#333" stroke-width="0.9"/>
<g transform="translate(311.38,1033.2)"><rect x="0" y="-65.1" width="7.3" height="65.1" fill="#fff"/><rect x="0" y="-65.1" width="7.3" height="65.1" fill="url(#hb)" stroke="#777" stroke-width="0.8"/></g>
<line x1="315.5" y1="968.1" x2="315.5" y2="956.9" stroke="#333" stroke-width="0.9"/>
<line x1="314.3" y1="957.3" x2="316.7" y2="957.3" stroke="#333" stroke-width="0.9"/>
<g transform="translate(318.68,1033.2)"><rect x="0" y="-25.6" width="7.3" height="25.6" fill="#fff"/><rect x="0" y="-25.6" width="7.3" height="25.6" fill="url(#hx)" stroke="#777" stroke-width="0.8"/></g>
<line x1="322.5" y1="1007.6" x2="322.5" y2="998.7" stroke="#333" stroke-width="0.9"/>
<line x1="321.3" y1="999.1" x2="323.7" y2="999.1" stroke="#333" stroke-width="0.9"/>
<g transform="translate(325.98,1033.2)"><rect x="0" y="-25.6" width="7.3" height="25.6" fill="#fff"/><rect x="0" y="-25.6" width="7.3" height="25.6" fill="url(#hh)" stroke="#777" stroke-width="0.8"/></g>
<line x1="329.5" y1="1007.6" x2="329.5" y2="1000.2" stroke="#333" stroke-width="0.9"/>
<line x1="328.3" y1="1000.6" x2="330.7" y2="1000.6" stroke="#333" stroke-width="0.9"/>
<rect x="333.28" y="1007.51" width="6.33" height="25.69" fill="#fff" stroke="#777" stroke-width="0.8"/>
<g transform="translate(339.61,1033.2)"><rect x="0" y="-81.8" width="7.3" height="81.8" fill="#fff"/><rect x="0" y="-81.8" width="7.3" height="81.8" fill="url(#hf)" stroke="#777" stroke-width="0.8"/></g>
<line x1="343.5" y1="951.4" x2="343.5" y2="933" stroke="#333" stroke-width="0.9"/>
<line x1="342.3" y1="933.4" x2="344.7" y2="933.4" stroke="#333" stroke-width="0.9"/>
<g transform="translate(346.91,1033.2)"><rect x="0" y="-62.6" width="7.3" height="62.6" fill="#fff"/><rect x="0" y="-62.6" width="7.3" height="62.6" fill="url(#hb)" stroke="#777" stroke-width="0.8"/></g>
<line x1="350.5" y1="970.6" x2="350.5" y2="961.7" stroke="#333" stroke-width="0.9"/>
<line x1="349.3" y1="962.1" x2="351.7" y2="962.1" stroke="#333" stroke-width="0.9"/>
<g transform="translate(354.21,1033.2)"><rect x="0" y="-27" width="7.3" height="27" fill="#fff"/><rect x="0" y="-27" width="7.3" height="27" fill="url(#hx)" stroke="#777" stroke-width="0.8"/></g>
<line x1="358.5" y1="1006.2" x2="358.5" y2="994.7" stroke="#333" stroke-width="0.9"/>
<line x1="357.3" y1="995.1" x2="359.7" y2="995.1" stroke="#333" stroke-width="0.9"/>
<g transform="translate(361.51,1033.2)"><rect x="0" y="-24.1" width="7.3" height="24.1" fill="#fff"/><rect x="0" y="-24.1" width="7.3" height="24.1" fill="url(#hh)" stroke="#777" stroke-width="0.8"/></g>
<line x1="365.5" y1="1009.1" x2="365.5" y2="1000.6" stroke="#333" stroke-width="0.9"/>
<line x1="364.3" y1="1001" x2="366.7" y2="1001" stroke="#333" stroke-width="0.9"/>
<line x1="66.2" y1="1007.51" x2="377.3" y2="1007.51" stroke="#555" stroke-width="0.9" stroke-dasharray="10 4"/>
<text x="130.6" y="948.07" font-size="21" font-weight="normal" style="stroke-width:0.35px" text-anchor="middle">*</text>
<text x="137.7" y="943.77" font-size="21" font-weight="normal" style="stroke-width:0.35px" text-anchor="middle">*</text>
<text x="165.5" y="944.77" font-size="21" font-weight="normal" style="stroke-width:0.35px" text-anchor="middle">*</text>
<text x="173.2" y="960.97" font-size="21" font-weight="normal" style="stroke-width:0.35px" text-anchor="middle">*</text>
<text x="202.1" y="937.77" font-size="21" font-weight="normal" style="stroke-width:0.35px" text-anchor="middle">*</text>
<text x="208.6" y="959.07" font-size="21" font-weight="normal" style="stroke-width:0.35px" text-anchor="middle">*</text>
<text x="237.4" y="940.47" font-size="21" font-weight="normal" style="stroke-width:0.35px" text-anchor="middle">*</text>
<text x="245.3" y="956.57" font-size="21" font-weight="normal" style="stroke-width:0.35px" text-anchor="middle">*</text>
<text x="272.7" y="944.97" font-size="21" font-weight="normal" style="stroke-width:0.35px" text-anchor="middle">*</text>
<text x="280.6" y="960.47" font-size="21" font-weight="normal" style="stroke-width:0.35px" text-anchor="middle">*</text>
<text x="307.5" y="939.87" font-size="21" font-weight="normal" style="stroke-width:0.35px" text-anchor="middle">*</text>
<text x="316.3" y="950.17" font-size="21" font-weight="normal" style="stroke-width:0.35px" text-anchor="middle">*</text>
<text x="343.7" y="925.27" font-size="21" font-weight="normal" style="stroke-width:0.35px" text-anchor="middle">*</text>
<text x="351.6" y="953.87" font-size="21" font-weight="normal" style="stroke-width:0.35px" text-anchor="middle">*</text>
<text x="105.5" y="1045.3" font-size="9.8" text-anchor="middle">5 min</text>
<text x="141.03" y="1045.3" font-size="9.8" text-anchor="middle">10 min</text>
<text x="176.56" y="1045.3" font-size="9.8" text-anchor="middle">30 min</text>
<text x="212.09" y="1045.3" font-size="9.8" text-anchor="middle">1 h</text>
<text x="247.62" y="1045.3" font-size="9.8" text-anchor="middle">3 h</text>
<text x="283.15" y="1045.3" font-size="9.8" text-anchor="middle">6 h</text>
<text x="318.68" y="1045.3" font-size="9.8" text-anchor="middle">12 h</text>
<text x="354.21" y="1045.3" font-size="9.8" text-anchor="middle">24 h</text>
<text x="226.5" y="1063.6" font-size="13" text-anchor="middle">Time</text>
</svg>
</body></html>
